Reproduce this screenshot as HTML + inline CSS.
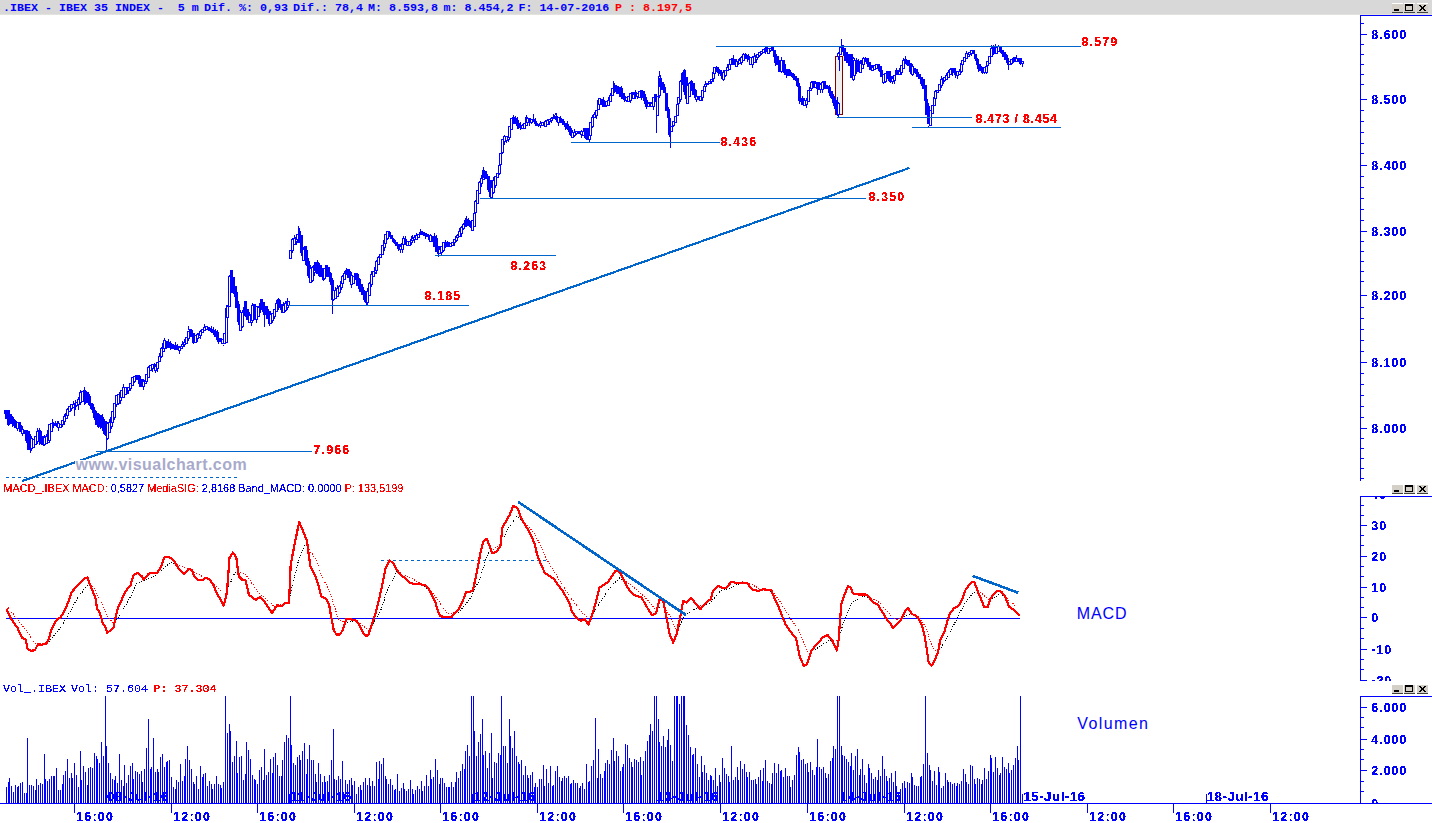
<!DOCTYPE html>
<html><head><meta charset="utf-8"><title>IBEX 35 INDEX</title>
<style>
html,body{margin:0;padding:0;background:#fff;width:1432px;height:823px;overflow:hidden}
svg{display:block}
</style></head><body>
<svg width="1432" height="823" viewBox="0 0 1432 823" shape-rendering="crispEdges" text-rendering="optimizeLegibility">
<defs><filter id="crisp" x="-5%" y="-20%" width="110%" height="140%" color-interpolation-filters="sRGB"><feComponentTransfer><feFuncA type="discrete" tableValues="0 1 1"/></feComponentTransfer></filter><filter id="crisp5" x="-5%" y="-20%" width="110%" height="140%" color-interpolation-filters="sRGB"><feComponentTransfer><feFuncA type="discrete" tableValues="0 1"/></feComponentTransfer></filter><filter id="crisp4" x="-5%" y="-20%" width="110%" height="140%" color-interpolation-filters="sRGB"><feComponentTransfer><feFuncA type="discrete" tableValues="0 0 1 1 1"/></feComponentTransfer></filter></defs>
<rect x="0" y="0" width="1432" height="14" fill="#D8D8D8"/>
<rect x="0" y="14" width="1432" height="1" fill="#E2E2DE"/>
<rect x="1392" y="3" width="11" height="10" fill="#D4D0C8"/><rect x="1392" y="3" width="11" height="1" fill="#FFFFFF"/><rect x="1392" y="12" width="11" height="1" fill="#404040"/><rect x="1394" y="9" width="5" height="2" fill="#000"/><rect x="1404" y="3" width="11" height="10" fill="#D4D0C8"/><rect x="1404" y="3" width="11" height="1" fill="#FFFFFF"/><rect x="1404" y="12" width="11" height="1" fill="#404040"/><rect x="1405.5" y="4.5" width="7" height="6" fill="none" stroke="#000" stroke-width="1"/><rect x="1405" y="4" width="8" height="2" fill="#000"/><rect x="1417" y="3" width="11" height="10" fill="#D4D0C8"/><rect x="1417" y="3" width="11" height="1" fill="#FFFFFF"/><rect x="1417" y="12" width="11" height="1" fill="#404040"/><path d="M1419 5h1v1h-1zM1420 5h1v1h-1zM1424 5h1v1h-1zM1425 5h1v1h-1zM1420 6h1v1h-1zM1421 6h1v1h-1zM1423 6h1v1h-1zM1424 6h1v1h-1zM1421 7h1v1h-1zM1422 7h1v1h-1zM1423 7h1v1h-1zM1421 8h1v1h-1zM1422 8h1v1h-1zM1423 8h1v1h-1zM1420 9h1v1h-1zM1421 9h1v1h-1zM1423 9h1v1h-1zM1424 9h1v1h-1zM1419 10h1v1h-1zM1420 10h1v1h-1zM1424 10h1v1h-1zM1425 10h1v1h-1z" fill="#000"/>
<rect x="1392" y="484" width="11" height="10" fill="#D4D0C8"/><rect x="1392" y="484" width="11" height="1" fill="#FFFFFF"/><rect x="1392" y="493" width="11" height="1" fill="#404040"/><rect x="1394" y="490" width="5" height="2" fill="#000"/><rect x="1404" y="484" width="11" height="10" fill="#D4D0C8"/><rect x="1404" y="484" width="11" height="1" fill="#FFFFFF"/><rect x="1404" y="493" width="11" height="1" fill="#404040"/><rect x="1405.5" y="485.5" width="7" height="6" fill="none" stroke="#000" stroke-width="1"/><rect x="1405" y="485" width="8" height="2" fill="#000"/><rect x="1417" y="484" width="11" height="10" fill="#D4D0C8"/><rect x="1417" y="484" width="11" height="1" fill="#FFFFFF"/><rect x="1417" y="493" width="11" height="1" fill="#404040"/><path d="M1419 486h1v1h-1zM1420 486h1v1h-1zM1424 486h1v1h-1zM1425 486h1v1h-1zM1420 487h1v1h-1zM1421 487h1v1h-1zM1423 487h1v1h-1zM1424 487h1v1h-1zM1421 488h1v1h-1zM1422 488h1v1h-1zM1423 488h1v1h-1zM1421 489h1v1h-1zM1422 489h1v1h-1zM1423 489h1v1h-1zM1420 490h1v1h-1zM1421 490h1v1h-1zM1423 490h1v1h-1zM1424 490h1v1h-1zM1419 491h1v1h-1zM1420 491h1v1h-1zM1424 491h1v1h-1zM1425 491h1v1h-1z" fill="#000"/>
<rect x="1392" y="684" width="11" height="10" fill="#D4D0C8"/><rect x="1392" y="684" width="11" height="1" fill="#FFFFFF"/><rect x="1392" y="693" width="11" height="1" fill="#404040"/><rect x="1394" y="690" width="5" height="2" fill="#000"/><rect x="1404" y="684" width="11" height="10" fill="#D4D0C8"/><rect x="1404" y="684" width="11" height="1" fill="#FFFFFF"/><rect x="1404" y="693" width="11" height="1" fill="#404040"/><rect x="1405.5" y="685.5" width="7" height="6" fill="none" stroke="#000" stroke-width="1"/><rect x="1405" y="685" width="8" height="2" fill="#000"/><rect x="1417" y="684" width="11" height="10" fill="#D4D0C8"/><rect x="1417" y="684" width="11" height="1" fill="#FFFFFF"/><rect x="1417" y="693" width="11" height="1" fill="#404040"/><path d="M1419 686h1v1h-1zM1420 686h1v1h-1zM1424 686h1v1h-1zM1425 686h1v1h-1zM1420 687h1v1h-1zM1421 687h1v1h-1zM1423 687h1v1h-1zM1424 687h1v1h-1zM1421 688h1v1h-1zM1422 688h1v1h-1zM1423 688h1v1h-1zM1421 689h1v1h-1zM1422 689h1v1h-1zM1423 689h1v1h-1zM1420 690h1v1h-1zM1421 690h1v1h-1zM1423 690h1v1h-1zM1424 690h1v1h-1zM1419 691h1v1h-1zM1420 691h1v1h-1zM1424 691h1v1h-1zM1425 691h1v1h-1z" fill="#000"/>
<text x="3" y="10.8" font-family="Liberation Mono, monospace" font-weight="bold" font-size="11.67" fill="#0000FF" xml:space="preserve">.IBEX - IBEX 35 INDEX -  5 m</text>
<text x="204" y="10.8" font-family="Liberation Mono, monospace" font-weight="bold" font-size="11.67" fill="#0000FF" xml:space="preserve">Dif. %: 0,93</text>
<text x="293" y="10.8" font-family="Liberation Mono, monospace" font-weight="bold" font-size="11.67" fill="#0000FF" xml:space="preserve">Dif.: 78,4</text>
<text x="368" y="10.8" font-family="Liberation Mono, monospace" font-weight="bold" font-size="11.67" fill="#0000FF" xml:space="preserve">M: 8.593,8</text>
<text x="443.6" y="10.8" font-family="Liberation Mono, monospace" font-weight="bold" font-size="11.67" fill="#0000FF" xml:space="preserve">m: 8.454,2</text>
<text x="518.4" y="10.8" font-family="Liberation Mono, monospace" font-weight="bold" font-size="11.67" fill="#0000FF" xml:space="preserve">F: 14-07-2016</text>
<text x="615" y="10.8" font-family="Liberation Mono, monospace" font-weight="bold" font-size="11.67" fill="#FF0000" xml:space="preserve">P : 8.197,5</text>
<rect x="1360" y="15" width="72" height="1" fill="#0000FF"/>
<rect x="1360" y="15" width="1" height="466" fill="#0000FF"/>
<rect x="1360" y="496" width="72" height="1" fill="#0000FF"/>
<rect x="1360" y="496" width="1" height="185" fill="#0000FF"/>
<rect x="1360" y="696" width="72" height="1" fill="#0000FF"/>
<rect x="1360" y="696" width="1" height="108" fill="#0000FF"/>
<rect x="1360" y="23" width="4" height="1" fill="#0000FF"/><rect x="1360" y="44" width="4" height="1" fill="#0000FF"/><rect x="1360" y="54" width="4" height="1" fill="#0000FF"/><rect x="1360" y="64" width="4" height="1" fill="#0000FF"/><rect x="1360" y="74" width="4" height="1" fill="#0000FF"/><rect x="1360" y="84" width="4" height="1" fill="#0000FF"/><rect x="1360" y="110" width="4" height="1" fill="#0000FF"/><rect x="1360" y="121" width="4" height="1" fill="#0000FF"/><rect x="1360" y="132" width="4" height="1" fill="#0000FF"/><rect x="1360" y="143" width="4" height="1" fill="#0000FF"/><rect x="1360" y="153" width="4" height="1" fill="#0000FF"/><rect x="1360" y="176" width="4" height="1" fill="#0000FF"/><rect x="1360" y="187" width="4" height="1" fill="#0000FF"/><rect x="1360" y="198" width="4" height="1" fill="#0000FF"/><rect x="1360" y="209" width="4" height="1" fill="#0000FF"/><rect x="1360" y="220" width="4" height="1" fill="#0000FF"/><rect x="1360" y="241" width="4" height="1" fill="#0000FF"/><rect x="1360" y="251" width="4" height="1" fill="#0000FF"/><rect x="1360" y="261" width="4" height="1" fill="#0000FF"/><rect x="1360" y="271" width="4" height="1" fill="#0000FF"/><rect x="1360" y="281" width="4" height="1" fill="#0000FF"/><rect x="1360" y="307" width="4" height="1" fill="#0000FF"/><rect x="1360" y="318" width="4" height="1" fill="#0000FF"/><rect x="1360" y="329" width="4" height="1" fill="#0000FF"/><rect x="1360" y="340" width="4" height="1" fill="#0000FF"/><rect x="1360" y="351" width="4" height="1" fill="#0000FF"/><rect x="1360" y="373" width="4" height="1" fill="#0000FF"/><rect x="1360" y="384" width="4" height="1" fill="#0000FF"/><rect x="1360" y="395" width="4" height="1" fill="#0000FF"/><rect x="1360" y="406" width="4" height="1" fill="#0000FF"/><rect x="1360" y="417" width="4" height="1" fill="#0000FF"/><rect x="1360" y="438" width="4" height="1" fill="#0000FF"/><rect x="1360" y="448" width="4" height="1" fill="#0000FF"/><rect x="1360" y="458" width="4" height="1" fill="#0000FF"/><rect x="1360" y="468" width="4" height="1" fill="#0000FF"/><rect x="1360" y="478" width="4" height="1" fill="#0000FF"/><rect x="1360" y="34" width="7" height="1" fill="#0000FF"/><text filter="url(#crisp)" x="1371.3" y="38.5" font-family="Liberation Sans, sans-serif" font-weight="bold" font-size="12.3" letter-spacing="1.05" fill="#0000FF">8.600</text><rect x="1360" y="99" width="7" height="1" fill="#0000FF"/><text filter="url(#crisp)" x="1371.3" y="103.5" font-family="Liberation Sans, sans-serif" font-weight="bold" font-size="12.3" letter-spacing="1.05" fill="#0000FF">8.500</text><rect x="1360" y="165" width="7" height="1" fill="#0000FF"/><text filter="url(#crisp)" x="1371.3" y="169.5" font-family="Liberation Sans, sans-serif" font-weight="bold" font-size="12.3" letter-spacing="1.05" fill="#0000FF">8.400</text><rect x="1360" y="231" width="7" height="1" fill="#0000FF"/><text filter="url(#crisp)" x="1371.3" y="235.5" font-family="Liberation Sans, sans-serif" font-weight="bold" font-size="12.3" letter-spacing="1.05" fill="#0000FF">8.300</text><rect x="1360" y="295" width="7" height="1" fill="#0000FF"/><text filter="url(#crisp)" x="1371.3" y="299.5" font-family="Liberation Sans, sans-serif" font-weight="bold" font-size="12.3" letter-spacing="1.05" fill="#0000FF">8.200</text><rect x="1360" y="362" width="7" height="1" fill="#0000FF"/><text filter="url(#crisp)" x="1371.3" y="366.5" font-family="Liberation Sans, sans-serif" font-weight="bold" font-size="12.3" letter-spacing="1.05" fill="#0000FF">8.100</text><rect x="1360" y="428" width="7" height="1" fill="#0000FF"/><text filter="url(#crisp)" x="1371.3" y="432.5" font-family="Liberation Sans, sans-serif" font-weight="bold" font-size="12.3" letter-spacing="1.05" fill="#0000FF">8.000</text>
<clipPath id="cm"><rect x="1360" y="497" width="72" height="184"/></clipPath>
<clipPath id="cv"><rect x="1360" y="697" width="72" height="106"/></clipPath>
<g clip-path="url(#cm)"><rect x="1360" y="505" width="4" height="1" fill="#0000FF"/><rect x="1360" y="515" width="4" height="1" fill="#0000FF"/><rect x="1360" y="535" width="4" height="1" fill="#0000FF"/><rect x="1360" y="545" width="4" height="1" fill="#0000FF"/><rect x="1360" y="566" width="4" height="1" fill="#0000FF"/><rect x="1360" y="576" width="4" height="1" fill="#0000FF"/><rect x="1360" y="597" width="4" height="1" fill="#0000FF"/><rect x="1360" y="607" width="4" height="1" fill="#0000FF"/><rect x="1360" y="628" width="4" height="1" fill="#0000FF"/><rect x="1360" y="638" width="4" height="1" fill="#0000FF"/><rect x="1360" y="659" width="4" height="1" fill="#0000FF"/><rect x="1360" y="669" width="4" height="1" fill="#0000FF"/><rect x="1360" y="525" width="7" height="1" fill="#0000FF"/><text filter="url(#crisp)" x="1371.3" y="529.5" font-family="Liberation Sans, sans-serif" font-weight="bold" font-size="12.3" letter-spacing="1.05" fill="#0000FF">30</text><rect x="1360" y="556" width="7" height="1" fill="#0000FF"/><text filter="url(#crisp)" x="1371.3" y="560.5" font-family="Liberation Sans, sans-serif" font-weight="bold" font-size="12.3" letter-spacing="1.05" fill="#0000FF">20</text><rect x="1360" y="587" width="7" height="1" fill="#0000FF"/><text filter="url(#crisp)" x="1371.3" y="591.5" font-family="Liberation Sans, sans-serif" font-weight="bold" font-size="12.3" letter-spacing="1.05" fill="#0000FF">10</text><rect x="1360" y="617" width="7" height="1" fill="#0000FF"/><text filter="url(#crisp)" x="1371.3" y="621.5" font-family="Liberation Sans, sans-serif" font-weight="bold" font-size="12.3" letter-spacing="1.05" fill="#0000FF">0</text><rect x="1360" y="649" width="7" height="1" fill="#0000FF"/><text filter="url(#crisp)" x="1371.3" y="653.5" font-family="Liberation Sans, sans-serif" font-weight="bold" font-size="12.3" letter-spacing="1.05" fill="#0000FF">-10</text><rect x="1360" y="680" width="7" height="1" fill="#0000FF"/><text filter="url(#crisp)" x="1371.3" y="684.5" font-family="Liberation Sans, sans-serif" font-weight="bold" font-size="12.3" letter-spacing="1.05" fill="#0000FF">-20</text><text filter="url(#crisp)" x="1371.3" y="499.2" font-family="Liberation Sans, sans-serif" font-weight="bold" font-size="12.3" letter-spacing="1.05" fill="#0000FF">40</text></g>
<g clip-path="url(#cv)"><rect x="1360" y="717" width="4" height="1" fill="#0000FF"/><rect x="1360" y="727" width="4" height="1" fill="#0000FF"/><rect x="1360" y="749" width="4" height="1" fill="#0000FF"/><rect x="1360" y="759" width="4" height="1" fill="#0000FF"/><rect x="1360" y="781" width="4" height="1" fill="#0000FF"/><rect x="1360" y="791" width="4" height="1" fill="#0000FF"/><rect x="1360" y="707" width="7" height="1" fill="#0000FF"/><text filter="url(#crisp)" x="1371.3" y="711.5" font-family="Liberation Sans, sans-serif" font-weight="bold" font-size="12.3" letter-spacing="1.05" fill="#0000FF">6.000</text><rect x="1360" y="739" width="7" height="1" fill="#0000FF"/><text filter="url(#crisp)" x="1371.3" y="743.5" font-family="Liberation Sans, sans-serif" font-weight="bold" font-size="12.3" letter-spacing="1.05" fill="#0000FF">4.000</text><rect x="1360" y="770" width="7" height="1" fill="#0000FF"/><text filter="url(#crisp)" x="1371.3" y="774.5" font-family="Liberation Sans, sans-serif" font-weight="bold" font-size="12.3" letter-spacing="1.05" fill="#0000FF">2.000</text><text filter="url(#crisp)" x="1371.3" y="807.6" font-family="Liberation Sans, sans-serif" font-weight="bold" font-size="12.3" letter-spacing="1.05" fill="#0000FF">0</text></g>
<rect x="835.5" y="56.5" width="7" height="58" fill="#EFEFEF" stroke="#800000" stroke-width="1"/>
<rect x="4" y="410" width="3" height="4" fill="#0000FF"/><rect x="5" y="410" width="3" height="9" fill="#0000FF"/><rect x="7" y="410" width="3" height="15" fill="#0000FF"/><rect x="9" y="414" width="3" height="10" fill="#0000FF"/><rect x="11" y="417" width="3" height="7" fill="#0000FF"/><rect x="12" y="419" width="3" height="7" fill="#0000FF"/><rect x="14" y="421" width="3" height="7" fill="#0000FF"/><rect x="16.5" y="422.5" width="2" height="6" fill="#fff" stroke="#0000FF" stroke-width="1"/><rect x="18" y="422" width="3" height="7" fill="#0000FF"/><rect x="20" y="427" width="3" height="5" fill="#0000FF"/><rect x="21.5" y="429.5" width="2" height="4" fill="#fff" stroke="#0000FF" stroke-width="1"/><rect x="23" y="430" width="3" height="4" fill="#0000FF"/><rect x="25" y="430" width="3" height="11" fill="#0000FF"/><rect x="27" y="431" width="3" height="19" fill="#0000FF"/><rect x="29" y="436" width="3" height="14" fill="#0000FF"/><rect x="30.5" y="438.5" width="2" height="10" fill="#fff" stroke="#0000FF" stroke-width="1"/><rect x="32.5" y="439.5" width="2" height="8" fill="#fff" stroke="#0000FF" stroke-width="1"/><rect x="34.5" y="436.5" width="2" height="8" fill="#fff" stroke="#0000FF" stroke-width="1"/><rect x="36.5" y="431.5" width="2" height="10" fill="#fff" stroke="#0000FF" stroke-width="1"/><rect x="38" y="430" width="3" height="12" fill="#0000FF"/><rect x="39" y="431" width="3" height="13" fill="#0000FF"/><rect x="41" y="436" width="3" height="9" fill="#0000FF"/><rect x="43.5" y="437.5" width="2" height="7" fill="#fff" stroke="#0000FF" stroke-width="1"/><rect x="45.5" y="436.5" width="2" height="7" fill="#fff" stroke="#0000FF" stroke-width="1"/><rect x="47.5" y="430.5" width="2" height="12" fill="#fff" stroke="#0000FF" stroke-width="1"/><rect x="48.5" y="424.5" width="2" height="16" fill="#fff" stroke="#0000FF" stroke-width="1"/><rect x="50.5" y="423.5" width="2" height="8" fill="#fff" stroke="#0000FF" stroke-width="1"/><rect x="52" y="423" width="3" height="2" fill="#0000FF"/><rect x="54" y="423" width="3" height="3" fill="#0000FF"/><rect x="56" y="423" width="3" height="4" fill="#0000FF"/><rect x="57.5" y="423.5" width="2" height="4" fill="#fff" stroke="#0000FF" stroke-width="1"/><rect x="59.5" y="424.5" width="2" height="3" fill="#fff" stroke="#0000FF" stroke-width="1"/><rect x="61.5" y="420.5" width="2" height="4" fill="#fff" stroke="#0000FF" stroke-width="1"/><rect x="63.5" y="416.5" width="2" height="5" fill="#fff" stroke="#0000FF" stroke-width="1"/><rect x="65.5" y="413.5" width="2" height="5" fill="#fff" stroke="#0000FF" stroke-width="1"/><rect x="66.5" y="409.5" width="2" height="6" fill="#fff" stroke="#0000FF" stroke-width="1"/><rect x="68.5" y="406.5" width="2" height="5" fill="#fff" stroke="#0000FF" stroke-width="1"/><rect x="70.5" y="404.5" width="2" height="4" fill="#fff" stroke="#0000FF" stroke-width="1"/><rect x="72.5" y="404.5" width="2" height="3" fill="#fff" stroke="#0000FF" stroke-width="1"/><rect x="74.5" y="403.5" width="2" height="3" fill="#fff" stroke="#0000FF" stroke-width="1"/><rect x="75.5" y="402.5" width="2" height="3" fill="#fff" stroke="#0000FF" stroke-width="1"/><rect x="77.5" y="399.5" width="2" height="5" fill="#fff" stroke="#0000FF" stroke-width="1"/><rect x="79.5" y="392.5" width="2" height="10" fill="#fff" stroke="#0000FF" stroke-width="1"/><rect x="81.5" y="391.5" width="2" height="10" fill="#fff" stroke="#0000FF" stroke-width="1"/><rect x="83.5" y="390.5" width="2" height="11" fill="#fff" stroke="#0000FF" stroke-width="1"/><rect x="84" y="391" width="3" height="10" fill="#0000FF"/><rect x="86" y="392" width="3" height="11" fill="#0000FF"/><rect x="88" y="396" width="3" height="9" fill="#0000FF"/><rect x="90" y="403" width="3" height="6" fill="#0000FF"/><rect x="92" y="407" width="3" height="6" fill="#0000FF"/><rect x="93" y="410" width="3" height="8" fill="#0000FF"/><rect x="95" y="413" width="3" height="12" fill="#0000FF"/><rect x="97" y="414" width="3" height="13" fill="#0000FF"/><rect x="99" y="415" width="3" height="12" fill="#0000FF"/><rect x="101" y="417" width="3" height="11" fill="#0000FF"/><rect x="102" y="419" width="3" height="12" fill="#0000FF"/><rect x="104" y="421" width="3" height="14" fill="#0000FF"/><rect x="106.5" y="423.5" width="2" height="15" fill="#fff" stroke="#0000FF" stroke-width="1"/><rect x="108.5" y="422.5" width="2" height="10" fill="#fff" stroke="#0000FF" stroke-width="1"/><rect x="110.5" y="417.5" width="2" height="9" fill="#fff" stroke="#0000FF" stroke-width="1"/><rect x="111.5" y="411.5" width="2" height="11" fill="#fff" stroke="#0000FF" stroke-width="1"/><rect x="113.5" y="403.5" width="2" height="14" fill="#fff" stroke="#0000FF" stroke-width="1"/><rect x="115.5" y="395.5" width="2" height="9" fill="#fff" stroke="#0000FF" stroke-width="1"/><rect x="117.5" y="394.5" width="2" height="9" fill="#fff" stroke="#0000FF" stroke-width="1"/><rect x="119.5" y="392.5" width="2" height="8" fill="#fff" stroke="#0000FF" stroke-width="1"/><rect x="120.5" y="390.5" width="2" height="7" fill="#fff" stroke="#0000FF" stroke-width="1"/><rect x="122.5" y="387.5" width="2" height="10" fill="#fff" stroke="#0000FF" stroke-width="1"/><rect x="124.5" y="387.5" width="2" height="7" fill="#fff" stroke="#0000FF" stroke-width="1"/><rect x="126.5" y="387.5" width="2" height="4" fill="#fff" stroke="#0000FF" stroke-width="1"/><rect x="127.5" y="387.5" width="2" height="3" fill="#fff" stroke="#0000FF" stroke-width="1"/><rect x="129.5" y="383.5" width="2" height="5" fill="#fff" stroke="#0000FF" stroke-width="1"/><rect x="131.5" y="377.5" width="2" height="8" fill="#fff" stroke="#0000FF" stroke-width="1"/><rect x="133.5" y="376.5" width="2" height="5" fill="#fff" stroke="#0000FF" stroke-width="1"/><rect x="135.5" y="375.5" width="2" height="4" fill="#fff" stroke="#0000FF" stroke-width="1"/><rect x="136" y="375" width="3" height="5" fill="#0000FF"/><rect x="138" y="376" width="3" height="8" fill="#0000FF"/><rect x="140" y="379" width="3" height="8" fill="#0000FF"/><rect x="142.5" y="381.5" width="2" height="5" fill="#fff" stroke="#0000FF" stroke-width="1"/><rect x="144.5" y="380.5" width="2" height="3" fill="#fff" stroke="#0000FF" stroke-width="1"/><rect x="145.5" y="374.5" width="2" height="7" fill="#fff" stroke="#0000FF" stroke-width="1"/><rect x="147.5" y="367.5" width="2" height="10" fill="#fff" stroke="#0000FF" stroke-width="1"/><rect x="149.5" y="365.5" width="2" height="5" fill="#fff" stroke="#0000FF" stroke-width="1"/><rect x="151.5" y="364.5" width="2" height="4" fill="#fff" stroke="#0000FF" stroke-width="1"/><rect x="153" y="364" width="3" height="5" fill="#0000FF"/><rect x="154.5" y="366.5" width="2" height="4" fill="#fff" stroke="#0000FF" stroke-width="1"/><rect x="156.5" y="362.5" width="2" height="6" fill="#fff" stroke="#0000FF" stroke-width="1"/><rect x="158.5" y="356.5" width="2" height="5" fill="#fff" stroke="#0000FF" stroke-width="1"/><rect x="160.5" y="348.5" width="2" height="8" fill="#fff" stroke="#0000FF" stroke-width="1"/><rect x="162.5" y="343.5" width="2" height="8" fill="#fff" stroke="#0000FF" stroke-width="1"/><rect x="163.5" y="340.5" width="2" height="8" fill="#fff" stroke="#0000FF" stroke-width="1"/><rect x="165" y="341" width="3" height="7" fill="#0000FF"/><rect x="167" y="342" width="3" height="6" fill="#0000FF"/><rect x="169" y="343" width="3" height="5" fill="#0000FF"/><rect x="171" y="344" width="3" height="5" fill="#0000FF"/><rect x="172" y="345" width="3" height="4" fill="#0000FF"/><rect x="174" y="345" width="3" height="5" fill="#0000FF"/><rect x="176" y="346" width="3" height="4" fill="#0000FF"/><rect x="178.5" y="347.5" width="2" height="3" fill="#fff" stroke="#0000FF" stroke-width="1"/><rect x="180.5" y="346.5" width="2" height="2" fill="#fff" stroke="#0000FF" stroke-width="1"/><rect x="181.5" y="344.5" width="2" height="2" fill="#fff" stroke="#0000FF" stroke-width="1"/><rect x="183.5" y="342.5" width="2" height="2" fill="#fff" stroke="#0000FF" stroke-width="1"/><rect x="185.5" y="337.5" width="2" height="6" fill="#fff" stroke="#0000FF" stroke-width="1"/><rect x="187.5" y="331.5" width="2" height="7" fill="#fff" stroke="#0000FF" stroke-width="1"/><rect x="189" y="329" width="3" height="7" fill="#0000FF"/><rect x="190" y="330" width="3" height="7" fill="#0000FF"/><rect x="192" y="333" width="3" height="10" fill="#0000FF"/><rect x="194.5" y="335.5" width="2" height="7" fill="#fff" stroke="#0000FF" stroke-width="1"/><rect x="196.5" y="334.5" width="2" height="4" fill="#fff" stroke="#0000FF" stroke-width="1"/><rect x="198.5" y="333.5" width="2" height="4" fill="#fff" stroke="#0000FF" stroke-width="1"/><rect x="199.5" y="331.5" width="2" height="4" fill="#fff" stroke="#0000FF" stroke-width="1"/><rect x="201.5" y="329.5" width="2" height="3" fill="#fff" stroke="#0000FF" stroke-width="1"/><rect x="203.5" y="327.5" width="2" height="3" fill="#fff" stroke="#0000FF" stroke-width="1"/><rect x="205.5" y="326.5" width="2" height="3" fill="#fff" stroke="#0000FF" stroke-width="1"/><rect x="207" y="327" width="3" height="3" fill="#0000FF"/><rect x="208" y="328" width="3" height="3" fill="#0000FF"/><rect x="210" y="329" width="3" height="3" fill="#0000FF"/><rect x="212" y="330" width="3" height="3" fill="#0000FF"/><rect x="214" y="331" width="3" height="6" fill="#0000FF"/><rect x="216" y="332" width="3" height="8" fill="#0000FF"/><rect x="217" y="338" width="3" height="4" fill="#0000FF"/><rect x="219" y="338" width="3" height="4" fill="#0000FF"/><rect x="221.5" y="339.5" width="2" height="4" fill="#fff" stroke="#0000FF" stroke-width="1"/><rect x="223.5" y="333.5" width="2" height="10" fill="#fff" stroke="#0000FF" stroke-width="1"/><rect x="225.5" y="308.5" width="2" height="34" fill="#fff" stroke="#0000FF" stroke-width="1"/><rect x="226.5" y="306.5" width="2" height="11" fill="#fff" stroke="#0000FF" stroke-width="1"/><rect x="228.5" y="276.5" width="2" height="30" fill="#fff" stroke="#0000FF" stroke-width="1"/><rect x="230" y="270" width="3" height="23" fill="#0000FF"/><rect x="232" y="277" width="3" height="15" fill="#0000FF"/><rect x="234" y="286" width="3" height="11" fill="#0000FF"/><rect x="235" y="292" width="3" height="16" fill="#0000FF"/><rect x="237" y="304" width="3" height="18" fill="#0000FF"/><rect x="239.5" y="312.5" width="2" height="18" fill="#fff" stroke="#0000FF" stroke-width="1"/><rect x="241.5" y="312.5" width="2" height="14" fill="#fff" stroke="#0000FF" stroke-width="1"/><rect x="243.5" y="307.5" width="2" height="8" fill="#fff" stroke="#0000FF" stroke-width="1"/><rect x="244" y="301" width="3" height="15" fill="#0000FF"/><rect x="246" y="309" width="3" height="11" fill="#0000FF"/><rect x="248.5" y="315.5" width="2" height="7" fill="#fff" stroke="#0000FF" stroke-width="1"/><rect x="250.5" y="314.5" width="2" height="8" fill="#fff" stroke="#0000FF" stroke-width="1"/><rect x="251.5" y="305.5" width="2" height="15" fill="#fff" stroke="#0000FF" stroke-width="1"/><rect x="253" y="304" width="3" height="16" fill="#0000FF"/><rect x="255.5" y="306.5" width="2" height="13" fill="#fff" stroke="#0000FF" stroke-width="1"/><rect x="257.5" y="307.5" width="2" height="9" fill="#fff" stroke="#0000FF" stroke-width="1"/><rect x="259.5" y="303.5" width="2" height="6" fill="#fff" stroke="#0000FF" stroke-width="1"/><rect x="260" y="299" width="3" height="10" fill="#0000FF"/><rect x="262" y="302" width="3" height="10" fill="#0000FF"/><rect x="264" y="306" width="3" height="9" fill="#0000FF"/><rect x="266" y="309" width="3" height="10" fill="#0000FF"/><rect x="268" y="311" width="3" height="13" fill="#0000FF"/><rect x="269.5" y="314.5" width="2" height="9" fill="#fff" stroke="#0000FF" stroke-width="1"/><rect x="271.5" y="313.5" width="2" height="7" fill="#fff" stroke="#0000FF" stroke-width="1"/><rect x="273.5" y="309.5" width="2" height="7" fill="#fff" stroke="#0000FF" stroke-width="1"/><rect x="275.5" y="303.5" width="2" height="8" fill="#fff" stroke="#0000FF" stroke-width="1"/><rect x="277.5" y="299.5" width="2" height="7" fill="#fff" stroke="#0000FF" stroke-width="1"/><rect x="278" y="300" width="3" height="7" fill="#0000FF"/><rect x="280" y="304" width="3" height="6" fill="#0000FF"/><rect x="282.5" y="305.5" width="2" height="7" fill="#fff" stroke="#0000FF" stroke-width="1"/><rect x="284.5" y="303.5" width="2" height="7" fill="#fff" stroke="#0000FF" stroke-width="1"/><rect x="286.5" y="301.5" width="2" height="6" fill="#fff" stroke="#0000FF" stroke-width="1"/><rect x="287.5" y="301.5" width="2" height="4" fill="#fff" stroke="#0000FF" stroke-width="1"/><rect x="289.5" y="250.5" width="2" height="8" fill="#fff" stroke="#0000FF" stroke-width="1"/><rect x="291.5" y="239.5" width="2" height="11" fill="#fff" stroke="#0000FF" stroke-width="1"/><rect x="293.5" y="238.5" width="2" height="6" fill="#fff" stroke="#0000FF" stroke-width="1"/><rect x="295.5" y="237.5" width="2" height="4" fill="#fff" stroke="#0000FF" stroke-width="1"/><rect x="296.5" y="234.5" width="2" height="5" fill="#fff" stroke="#0000FF" stroke-width="1"/><rect x="298" y="231" width="3" height="12" fill="#0000FF"/><rect x="300" y="235" width="3" height="18" fill="#0000FF"/><rect x="302.5" y="249.5" width="2" height="11" fill="#fff" stroke="#0000FF" stroke-width="1"/><rect x="304" y="246" width="3" height="12" fill="#0000FF"/><rect x="305" y="250" width="3" height="15" fill="#0000FF"/><rect x="307" y="261" width="3" height="15" fill="#0000FF"/><rect x="309.5" y="268.5" width="2" height="14" fill="#fff" stroke="#0000FF" stroke-width="1"/><rect x="311.5" y="267.5" width="2" height="13" fill="#fff" stroke="#0000FF" stroke-width="1"/><rect x="313.5" y="265.5" width="2" height="7" fill="#fff" stroke="#0000FF" stroke-width="1"/><rect x="314" y="262" width="3" height="9" fill="#0000FF"/><rect x="316" y="262" width="3" height="12" fill="#0000FF"/><rect x="318" y="265" width="3" height="11" fill="#0000FF"/><rect x="320" y="268" width="3" height="9" fill="#0000FF"/><rect x="322.5" y="272.5" width="2" height="7" fill="#fff" stroke="#0000FF" stroke-width="1"/><rect x="323.5" y="268.5" width="2" height="10" fill="#fff" stroke="#0000FF" stroke-width="1"/><rect x="325" y="265" width="3" height="12" fill="#0000FF"/><rect x="327" y="267" width="3" height="9" fill="#0000FF"/><rect x="329" y="273" width="3" height="9" fill="#0000FF"/><rect x="331" y="280" width="3" height="20" fill="#0000FF"/><rect x="332.5" y="290.5" width="2" height="9" fill="#fff" stroke="#0000FF" stroke-width="1"/><rect x="334.5" y="290.5" width="2" height="8" fill="#fff" stroke="#0000FF" stroke-width="1"/><rect x="336.5" y="288.5" width="2" height="8" fill="#fff" stroke="#0000FF" stroke-width="1"/><rect x="338.5" y="286.5" width="2" height="6" fill="#fff" stroke="#0000FF" stroke-width="1"/><rect x="340.5" y="281.5" width="2" height="6" fill="#fff" stroke="#0000FF" stroke-width="1"/><rect x="341.5" y="276.5" width="2" height="7" fill="#fff" stroke="#0000FF" stroke-width="1"/><rect x="343.5" y="273.5" width="2" height="6" fill="#fff" stroke="#0000FF" stroke-width="1"/><rect x="345" y="270" width="3" height="5" fill="#0000FF"/><rect x="347" y="269" width="3" height="9" fill="#0000FF"/><rect x="349" y="272" width="3" height="10" fill="#0000FF"/><rect x="350.5" y="275.5" width="2" height="9" fill="#fff" stroke="#0000FF" stroke-width="1"/><rect x="352.5" y="276.5" width="2" height="7" fill="#fff" stroke="#0000FF" stroke-width="1"/><rect x="354" y="273" width="3" height="7" fill="#0000FF"/><rect x="356" y="274" width="3" height="12" fill="#0000FF"/><rect x="358" y="279" width="3" height="10" fill="#0000FF"/><rect x="359" y="284" width="3" height="8" fill="#0000FF"/><rect x="361" y="287" width="3" height="8" fill="#0000FF"/><rect x="363" y="291" width="3" height="9" fill="#0000FF"/><rect x="365.5" y="293.5" width="2" height="9" fill="#fff" stroke="#0000FF" stroke-width="1"/><rect x="366.5" y="291.5" width="2" height="11" fill="#fff" stroke="#0000FF" stroke-width="1"/><rect x="368.5" y="283.5" width="2" height="12" fill="#fff" stroke="#0000FF" stroke-width="1"/><rect x="370.5" y="274.5" width="2" height="10" fill="#fff" stroke="#0000FF" stroke-width="1"/><rect x="372.5" y="271.5" width="2" height="5" fill="#fff" stroke="#0000FF" stroke-width="1"/><rect x="374.5" y="267.5" width="2" height="5" fill="#fff" stroke="#0000FF" stroke-width="1"/><rect x="375.5" y="261.5" width="2" height="9" fill="#fff" stroke="#0000FF" stroke-width="1"/><rect x="377.5" y="257.5" width="2" height="7" fill="#fff" stroke="#0000FF" stroke-width="1"/><rect x="379.5" y="254.5" width="2" height="3" fill="#fff" stroke="#0000FF" stroke-width="1"/><rect x="381.5" y="245.5" width="2" height="9" fill="#fff" stroke="#0000FF" stroke-width="1"/><rect x="383.5" y="240.5" width="2" height="7" fill="#fff" stroke="#0000FF" stroke-width="1"/><rect x="384.5" y="234.5" width="2" height="9" fill="#fff" stroke="#0000FF" stroke-width="1"/><rect x="386.5" y="231.5" width="2" height="7" fill="#fff" stroke="#0000FF" stroke-width="1"/><rect x="388" y="232" width="3" height="4" fill="#0000FF"/><rect x="390" y="235" width="3" height="4" fill="#0000FF"/><rect x="392" y="239" width="3" height="3" fill="#0000FF"/><rect x="393" y="240" width="3" height="3" fill="#0000FF"/><rect x="395" y="242" width="3" height="4" fill="#0000FF"/><rect x="397" y="244" width="3" height="5" fill="#0000FF"/><rect x="399.5" y="246.5" width="2" height="3" fill="#fff" stroke="#0000FF" stroke-width="1"/><rect x="401.5" y="243.5" width="2" height="6" fill="#fff" stroke="#0000FF" stroke-width="1"/><rect x="402.5" y="238.5" width="2" height="6" fill="#fff" stroke="#0000FF" stroke-width="1"/><rect x="404" y="239" width="3" height="6" fill="#0000FF"/><rect x="406.5" y="241.5" width="2" height="4" fill="#fff" stroke="#0000FF" stroke-width="1"/><rect x="408.5" y="241.5" width="2" height="4" fill="#fff" stroke="#0000FF" stroke-width="1"/><rect x="410.5" y="239.5" width="2" height="3" fill="#fff" stroke="#0000FF" stroke-width="1"/><rect x="411.5" y="238.5" width="2" height="2" fill="#fff" stroke="#0000FF" stroke-width="1"/><rect x="413.5" y="237.5" width="2" height="2" fill="#fff" stroke="#0000FF" stroke-width="1"/><rect x="415.5" y="235.5" width="2" height="4" fill="#fff" stroke="#0000FF" stroke-width="1"/><rect x="417.5" y="234.5" width="2" height="3" fill="#fff" stroke="#0000FF" stroke-width="1"/><rect x="419.5" y="232.5" width="2" height="2" fill="#fff" stroke="#0000FF" stroke-width="1"/><rect x="420" y="231" width="3" height="3" fill="#0000FF"/><rect x="422" y="232" width="3" height="3" fill="#0000FF"/><rect x="424" y="233" width="3" height="3" fill="#0000FF"/><rect x="426" y="234" width="3" height="3" fill="#0000FF"/><rect x="428" y="235" width="3" height="5" fill="#0000FF"/><rect x="429.5" y="235.5" width="2" height="6" fill="#fff" stroke="#0000FF" stroke-width="1"/><rect x="431" y="236" width="3" height="6" fill="#0000FF"/><rect x="433" y="236" width="3" height="11" fill="#0000FF"/><rect x="435" y="238" width="3" height="14" fill="#0000FF"/><rect x="437" y="246" width="3" height="8" fill="#0000FF"/><rect x="438.5" y="249.5" width="2" height="4" fill="#fff" stroke="#0000FF" stroke-width="1"/><rect x="440.5" y="246.5" width="2" height="6" fill="#fff" stroke="#0000FF" stroke-width="1"/><rect x="442.5" y="242.5" width="2" height="8" fill="#fff" stroke="#0000FF" stroke-width="1"/><rect x="444" y="242" width="3" height="3" fill="#0000FF"/><rect x="446.5" y="242.5" width="2" height="4" fill="#fff" stroke="#0000FF" stroke-width="1"/><rect x="447" y="242" width="3" height="5" fill="#0000FF"/><rect x="449.5" y="243.5" width="2" height="3" fill="#fff" stroke="#0000FF" stroke-width="1"/><rect x="451.5" y="242.5" width="2" height="3" fill="#fff" stroke="#0000FF" stroke-width="1"/><rect x="453.5" y="239.5" width="2" height="3" fill="#fff" stroke="#0000FF" stroke-width="1"/><rect x="455.5" y="236.5" width="2" height="4" fill="#fff" stroke="#0000FF" stroke-width="1"/><rect x="456.5" y="235.5" width="2" height="2" fill="#fff" stroke="#0000FF" stroke-width="1"/><rect x="458.5" y="231.5" width="2" height="5" fill="#fff" stroke="#0000FF" stroke-width="1"/><rect x="460.5" y="227.5" width="2" height="6" fill="#fff" stroke="#0000FF" stroke-width="1"/><rect x="462.5" y="224.5" width="2" height="4" fill="#fff" stroke="#0000FF" stroke-width="1"/><rect x="464.5" y="220.5" width="2" height="6" fill="#fff" stroke="#0000FF" stroke-width="1"/><rect x="465" y="219" width="3" height="7" fill="#0000FF"/><rect x="467" y="220" width="3" height="6" fill="#0000FF"/><rect x="469" y="222" width="3" height="5" fill="#0000FF"/><rect x="471.5" y="220.5" width="2" height="10" fill="#fff" stroke="#0000FF" stroke-width="1"/><rect x="473.5" y="213.5" width="2" height="13" fill="#fff" stroke="#0000FF" stroke-width="1"/><rect x="474.5" y="201.5" width="2" height="11" fill="#fff" stroke="#0000FF" stroke-width="1"/><rect x="476.5" y="190.5" width="2" height="13" fill="#fff" stroke="#0000FF" stroke-width="1"/><rect x="478.5" y="182.5" width="2" height="11" fill="#fff" stroke="#0000FF" stroke-width="1"/><rect x="480.5" y="178.5" width="2" height="5" fill="#fff" stroke="#0000FF" stroke-width="1"/><rect x="482.5" y="170.5" width="2" height="9" fill="#fff" stroke="#0000FF" stroke-width="1"/><rect x="483" y="171" width="3" height="7" fill="#0000FF"/><rect x="485" y="174" width="3" height="5" fill="#0000FF"/><rect x="487" y="176" width="3" height="14" fill="#0000FF"/><rect x="489" y="180" width="3" height="17" fill="#0000FF"/><rect x="490.5" y="187.5" width="2" height="10" fill="#fff" stroke="#0000FF" stroke-width="1"/><rect x="492.5" y="180.5" width="2" height="12" fill="#fff" stroke="#0000FF" stroke-width="1"/><rect x="494.5" y="176.5" width="2" height="9" fill="#fff" stroke="#0000FF" stroke-width="1"/><rect x="496.5" y="173.5" width="2" height="4" fill="#fff" stroke="#0000FF" stroke-width="1"/><rect x="498.5" y="165.5" width="2" height="8" fill="#fff" stroke="#0000FF" stroke-width="1"/><rect x="499.5" y="153.5" width="2" height="11" fill="#fff" stroke="#0000FF" stroke-width="1"/><rect x="501.5" y="139.5" width="2" height="13" fill="#fff" stroke="#0000FF" stroke-width="1"/><rect x="503.5" y="136.5" width="2" height="5" fill="#fff" stroke="#0000FF" stroke-width="1"/><rect x="505.5" y="136.5" width="2" height="4" fill="#fff" stroke="#0000FF" stroke-width="1"/><rect x="507.5" y="136.5" width="2" height="3" fill="#fff" stroke="#0000FF" stroke-width="1"/><rect x="508.5" y="126.5" width="2" height="11" fill="#fff" stroke="#0000FF" stroke-width="1"/><rect x="510.5" y="118.5" width="2" height="11" fill="#fff" stroke="#0000FF" stroke-width="1"/><rect x="512" y="117" width="3" height="5" fill="#0000FF"/><rect x="514" y="118" width="3" height="6" fill="#0000FF"/><rect x="516" y="120" width="3" height="6" fill="#0000FF"/><rect x="517" y="123" width="3" height="4" fill="#0000FF"/><rect x="519" y="125" width="3" height="3" fill="#0000FF"/><rect x="521.5" y="125.5" width="2" height="3" fill="#fff" stroke="#0000FF" stroke-width="1"/><rect x="523.5" y="123.5" width="2" height="5" fill="#fff" stroke="#0000FF" stroke-width="1"/><rect x="525.5" y="117.5" width="2" height="8" fill="#fff" stroke="#0000FF" stroke-width="1"/><rect x="526.5" y="118.5" width="2" height="4" fill="#fff" stroke="#0000FF" stroke-width="1"/><rect x="528" y="118" width="3" height="5" fill="#0000FF"/><rect x="530.5" y="119.5" width="2" height="3" fill="#fff" stroke="#0000FF" stroke-width="1"/><rect x="532" y="119" width="3" height="3" fill="#0000FF"/><rect x="534" y="121" width="3" height="3" fill="#0000FF"/><rect x="535" y="123" width="3" height="3" fill="#0000FF"/><rect x="537" y="124" width="3" height="2" fill="#0000FF"/><rect x="539.5" y="123.5" width="2" height="2" fill="#fff" stroke="#0000FF" stroke-width="1"/><rect x="541.5" y="122.5" width="2" height="3" fill="#fff" stroke="#0000FF" stroke-width="1"/><rect x="543.5" y="122.5" width="2" height="3" fill="#fff" stroke="#0000FF" stroke-width="1"/><rect x="544.5" y="121.5" width="2" height="5" fill="#fff" stroke="#0000FF" stroke-width="1"/><rect x="546.5" y="120.5" width="2" height="4" fill="#fff" stroke="#0000FF" stroke-width="1"/><rect x="548.5" y="119.5" width="2" height="2" fill="#fff" stroke="#0000FF" stroke-width="1"/><rect x="550.5" y="118.5" width="2" height="2" fill="#fff" stroke="#0000FF" stroke-width="1"/><rect x="552" y="117" width="3" height="2" fill="#0000FF"/><rect x="553" y="116" width="3" height="2" fill="#0000FF"/><rect x="555" y="116" width="3" height="4" fill="#0000FF"/><rect x="557.5" y="117.5" width="2" height="5" fill="#fff" stroke="#0000FF" stroke-width="1"/><rect x="559" y="118" width="3" height="4" fill="#0000FF"/><rect x="561" y="119" width="3" height="4" fill="#0000FF"/><rect x="562" y="121" width="3" height="4" fill="#0000FF"/><rect x="564" y="123" width="3" height="4" fill="#0000FF"/><rect x="566" y="124" width="3" height="5" fill="#0000FF"/><rect x="568" y="126" width="3" height="6" fill="#0000FF"/><rect x="570" y="130" width="3" height="6" fill="#0000FF"/><rect x="571.5" y="132.5" width="2" height="5" fill="#fff" stroke="#0000FF" stroke-width="1"/><rect x="573.5" y="132.5" width="2" height="3" fill="#fff" stroke="#0000FF" stroke-width="1"/><rect x="575.5" y="131.5" width="2" height="2" fill="#fff" stroke="#0000FF" stroke-width="1"/><rect x="577" y="131" width="3" height="3" fill="#0000FF"/><rect x="579" y="131" width="3" height="3" fill="#0000FF"/><rect x="580.5" y="131.5" width="2" height="3" fill="#fff" stroke="#0000FF" stroke-width="1"/><rect x="582.5" y="131.5" width="2" height="4" fill="#fff" stroke="#0000FF" stroke-width="1"/><rect x="584" y="128" width="3" height="10" fill="#0000FF"/><rect x="586" y="128" width="3" height="12" fill="#0000FF"/><rect x="588.5" y="132.5" width="2" height="7" fill="#fff" stroke="#0000FF" stroke-width="1"/><rect x="589.5" y="122.5" width="2" height="13" fill="#fff" stroke="#0000FF" stroke-width="1"/><rect x="591.5" y="117.5" width="2" height="9" fill="#fff" stroke="#0000FF" stroke-width="1"/><rect x="593.5" y="114.5" width="2" height="3" fill="#fff" stroke="#0000FF" stroke-width="1"/><rect x="595.5" y="110.5" width="2" height="5" fill="#fff" stroke="#0000FF" stroke-width="1"/><rect x="597.5" y="100.5" width="2" height="9" fill="#fff" stroke="#0000FF" stroke-width="1"/><rect x="598.5" y="98.5" width="2" height="6" fill="#fff" stroke="#0000FF" stroke-width="1"/><rect x="600" y="99" width="3" height="6" fill="#0000FF"/><rect x="602" y="100" width="3" height="7" fill="#0000FF"/><rect x="604.5" y="102.5" width="2" height="4" fill="#fff" stroke="#0000FF" stroke-width="1"/><rect x="605.5" y="101.5" width="2" height="4" fill="#fff" stroke="#0000FF" stroke-width="1"/><rect x="607.5" y="100.5" width="2" height="5" fill="#fff" stroke="#0000FF" stroke-width="1"/><rect x="609.5" y="95.5" width="2" height="6" fill="#fff" stroke="#0000FF" stroke-width="1"/><rect x="611.5" y="88.5" width="2" height="7" fill="#fff" stroke="#0000FF" stroke-width="1"/><rect x="613.5" y="86.5" width="2" height="4" fill="#fff" stroke="#0000FF" stroke-width="1"/><rect x="614" y="85" width="3" height="5" fill="#0000FF"/><rect x="616" y="86" width="3" height="8" fill="#0000FF"/><rect x="618" y="87" width="3" height="7" fill="#0000FF"/><rect x="620" y="88" width="3" height="9" fill="#0000FF"/><rect x="622" y="93" width="3" height="6" fill="#0000FF"/><rect x="623" y="96" width="3" height="4" fill="#0000FF"/><rect x="625.5" y="97.5" width="2" height="3" fill="#fff" stroke="#0000FF" stroke-width="1"/><rect x="627.5" y="96.5" width="2" height="5" fill="#fff" stroke="#0000FF" stroke-width="1"/><rect x="629.5" y="93.5" width="2" height="7" fill="#fff" stroke="#0000FF" stroke-width="1"/><rect x="631" y="92" width="3" height="7" fill="#0000FF"/><rect x="632.5" y="94.5" width="2" height="4" fill="#fff" stroke="#0000FF" stroke-width="1"/><rect x="634" y="92" width="3" height="4" fill="#0000FF"/><rect x="636.5" y="93.5" width="2" height="3" fill="#fff" stroke="#0000FF" stroke-width="1"/><rect x="638.5" y="91.5" width="2" height="6" fill="#fff" stroke="#0000FF" stroke-width="1"/><rect x="640" y="90" width="3" height="8" fill="#0000FF"/><rect x="641" y="91" width="3" height="7" fill="#0000FF"/><rect x="643" y="94" width="3" height="7" fill="#0000FF"/><rect x="645" y="100" width="3" height="7" fill="#0000FF"/><rect x="647.5" y="103.5" width="2" height="3" fill="#fff" stroke="#0000FF" stroke-width="1"/><rect x="649" y="102" width="3" height="4" fill="#0000FF"/><rect x="650.5" y="103.5" width="2" height="3" fill="#fff" stroke="#0000FF" stroke-width="1"/><rect x="652.5" y="97.5" width="2" height="9" fill="#fff" stroke="#0000FF" stroke-width="1"/><rect x="654" y="94" width="3" height="8" fill="#0000FF"/><rect x="656.5" y="96.5" width="2" height="19" fill="#fff" stroke="#0000FF" stroke-width="1"/><rect x="658.5" y="76.5" width="2" height="19" fill="#fff" stroke="#0000FF" stroke-width="1"/><rect x="659" y="78" width="3" height="9" fill="#0000FF"/><rect x="661" y="82" width="3" height="8" fill="#0000FF"/><rect x="663" y="87" width="3" height="6" fill="#0000FF"/><rect x="665" y="93" width="3" height="18" fill="#0000FF"/><rect x="667" y="109" width="3" height="9" fill="#0000FF"/><rect x="668" y="118" width="3" height="17" fill="#0000FF"/><rect x="670.5" y="126.5" width="2" height="5" fill="#fff" stroke="#0000FF" stroke-width="1"/><rect x="672.5" y="121.5" width="2" height="4" fill="#fff" stroke="#0000FF" stroke-width="1"/><rect x="674.5" y="116.5" width="2" height="6" fill="#fff" stroke="#0000FF" stroke-width="1"/><rect x="676.5" y="104.5" width="2" height="11" fill="#fff" stroke="#0000FF" stroke-width="1"/><rect x="677.5" y="97.5" width="2" height="6" fill="#fff" stroke="#0000FF" stroke-width="1"/><rect x="679.5" y="81.5" width="2" height="18" fill="#fff" stroke="#0000FF" stroke-width="1"/><rect x="681" y="73" width="3" height="12" fill="#0000FF"/><rect x="683" y="70" width="3" height="22" fill="#0000FF"/><rect x="685" y="77" width="3" height="22" fill="#0000FF"/><rect x="686.5" y="85.5" width="2" height="18" fill="#fff" stroke="#0000FF" stroke-width="1"/><rect x="688.5" y="83.5" width="2" height="13" fill="#fff" stroke="#0000FF" stroke-width="1"/><rect x="690" y="81" width="3" height="10" fill="#0000FF"/><rect x="692" y="83" width="3" height="12" fill="#0000FF"/><rect x="694" y="90" width="3" height="8" fill="#0000FF"/><rect x="695.5" y="96.5" width="2" height="3" fill="#fff" stroke="#0000FF" stroke-width="1"/><rect x="697" y="96" width="3" height="4" fill="#0000FF"/><rect x="699.5" y="96.5" width="2" height="4" fill="#fff" stroke="#0000FF" stroke-width="1"/><rect x="701.5" y="90.5" width="2" height="7" fill="#fff" stroke="#0000FF" stroke-width="1"/><rect x="703.5" y="86.5" width="2" height="5" fill="#fff" stroke="#0000FF" stroke-width="1"/><rect x="704.5" y="84.5" width="2" height="2" fill="#fff" stroke="#0000FF" stroke-width="1"/><rect x="706" y="83" width="3" height="2" fill="#0000FF"/><rect x="708.5" y="81.5" width="2" height="2" fill="#fff" stroke="#0000FF" stroke-width="1"/><rect x="710.5" y="79.5" width="2" height="2" fill="#fff" stroke="#0000FF" stroke-width="1"/><rect x="712.5" y="72.5" width="2" height="6" fill="#fff" stroke="#0000FF" stroke-width="1"/><rect x="713.5" y="67.5" width="2" height="6" fill="#fff" stroke="#0000FF" stroke-width="1"/><rect x="715" y="67" width="3" height="5" fill="#0000FF"/><rect x="717" y="69" width="3" height="4" fill="#0000FF"/><rect x="719" y="70" width="3" height="4" fill="#0000FF"/><rect x="721" y="72" width="3" height="7" fill="#0000FF"/><rect x="722.5" y="72.5" width="2" height="7" fill="#fff" stroke="#0000FF" stroke-width="1"/><rect x="724.5" y="70.5" width="2" height="5" fill="#fff" stroke="#0000FF" stroke-width="1"/><rect x="726.5" y="67.5" width="2" height="3" fill="#fff" stroke="#0000FF" stroke-width="1"/><rect x="728.5" y="64.5" width="2" height="5" fill="#fff" stroke="#0000FF" stroke-width="1"/><rect x="729.5" y="59.5" width="2" height="5" fill="#fff" stroke="#0000FF" stroke-width="1"/><rect x="731" y="58" width="3" height="5" fill="#0000FF"/><rect x="733" y="59" width="3" height="6" fill="#0000FF"/><rect x="735.5" y="61.5" width="2" height="5" fill="#fff" stroke="#0000FF" stroke-width="1"/><rect x="737.5" y="61.5" width="2" height="2" fill="#fff" stroke="#0000FF" stroke-width="1"/><rect x="738.5" y="60.5" width="2" height="3" fill="#fff" stroke="#0000FF" stroke-width="1"/><rect x="740.5" y="57.5" width="2" height="5" fill="#fff" stroke="#0000FF" stroke-width="1"/><rect x="742.5" y="54.5" width="2" height="6" fill="#fff" stroke="#0000FF" stroke-width="1"/><rect x="744" y="54" width="3" height="5" fill="#0000FF"/><rect x="746" y="55" width="3" height="4" fill="#0000FF"/><rect x="747" y="56" width="3" height="4" fill="#0000FF"/><rect x="749.5" y="57.5" width="2" height="7" fill="#fff" stroke="#0000FF" stroke-width="1"/><rect x="751.5" y="57.5" width="2" height="7" fill="#fff" stroke="#0000FF" stroke-width="1"/><rect x="753.5" y="56.5" width="2" height="6" fill="#fff" stroke="#0000FF" stroke-width="1"/><rect x="755.5" y="55.5" width="2" height="4" fill="#fff" stroke="#0000FF" stroke-width="1"/><rect x="756.5" y="54.5" width="2" height="3" fill="#fff" stroke="#0000FF" stroke-width="1"/><rect x="758.5" y="52.5" width="2" height="3" fill="#fff" stroke="#0000FF" stroke-width="1"/><rect x="760.5" y="51.5" width="2" height="2" fill="#fff" stroke="#0000FF" stroke-width="1"/><rect x="762.5" y="49.5" width="2" height="3" fill="#fff" stroke="#0000FF" stroke-width="1"/><rect x="764.5" y="48.5" width="2" height="3" fill="#fff" stroke="#0000FF" stroke-width="1"/><rect x="765" y="47" width="3" height="5" fill="#0000FF"/><rect x="767.5" y="48.5" width="2" height="5" fill="#fff" stroke="#0000FF" stroke-width="1"/><rect x="769.5" y="48.5" width="2" height="2" fill="#fff" stroke="#0000FF" stroke-width="1"/><rect x="771" y="47" width="3" height="4" fill="#0000FF"/><rect x="773" y="50" width="3" height="7" fill="#0000FF"/><rect x="774" y="54" width="3" height="9" fill="#0000FF"/><rect x="776" y="56" width="3" height="9" fill="#0000FF"/><rect x="778" y="60" width="3" height="12" fill="#0000FF"/><rect x="780.5" y="60.5" width="2" height="11" fill="#fff" stroke="#0000FF" stroke-width="1"/><rect x="782" y="60" width="3" height="11" fill="#0000FF"/><rect x="783" y="64" width="3" height="9" fill="#0000FF"/><rect x="785" y="69" width="3" height="6" fill="#0000FF"/><rect x="787" y="69" width="3" height="7" fill="#0000FF"/><rect x="789" y="72" width="3" height="4" fill="#0000FF"/><rect x="791" y="73" width="3" height="4" fill="#0000FF"/><rect x="792" y="74" width="3" height="4" fill="#0000FF"/><rect x="794" y="76" width="3" height="4" fill="#0000FF"/><rect x="796" y="78" width="3" height="8" fill="#0000FF"/><rect x="798" y="86" width="3" height="15" fill="#0000FF"/><rect x="800" y="98" width="3" height="4" fill="#0000FF"/><rect x="801" y="98" width="3" height="5" fill="#0000FF"/><rect x="803.5" y="100.5" width="2" height="5" fill="#fff" stroke="#0000FF" stroke-width="1"/><rect x="805.5" y="100.5" width="2" height="4" fill="#fff" stroke="#0000FF" stroke-width="1"/><rect x="807.5" y="90.5" width="2" height="11" fill="#fff" stroke="#0000FF" stroke-width="1"/><rect x="809.5" y="87.5" width="2" height="3" fill="#fff" stroke="#0000FF" stroke-width="1"/><rect x="810.5" y="82.5" width="2" height="6" fill="#fff" stroke="#0000FF" stroke-width="1"/><rect x="812" y="81" width="3" height="7" fill="#0000FF"/><rect x="814.5" y="83.5" width="2" height="4" fill="#fff" stroke="#0000FF" stroke-width="1"/><rect x="816" y="82" width="3" height="7" fill="#0000FF"/><rect x="818" y="83" width="3" height="7" fill="#0000FF"/><rect x="819.5" y="84.5" width="2" height="5" fill="#fff" stroke="#0000FF" stroke-width="1"/><rect x="821.5" y="82.5" width="2" height="7" fill="#fff" stroke="#0000FF" stroke-width="1"/><rect x="823" y="81" width="3" height="8" fill="#0000FF"/><rect x="825" y="85" width="3" height="4" fill="#0000FF"/><rect x="827" y="86" width="3" height="3" fill="#0000FF"/><rect x="828" y="87" width="3" height="6" fill="#0000FF"/><rect x="830" y="91" width="3" height="7" fill="#0000FF"/><rect x="832" y="96" width="3" height="7" fill="#0000FF"/><rect x="834" y="100" width="3" height="9" fill="#0000FF"/><rect x="836.5" y="104.5" width="2" height="10" fill="#fff" stroke="#0000FF" stroke-width="1"/><rect x="837.5" y="103.5" width="2" height="11" fill="#fff" stroke="#0000FF" stroke-width="1"/><rect x="837.5" y="53.5" width="2" height="3" fill="#fff" stroke="#0000FF" stroke-width="1"/><rect x="839.5" y="47.5" width="2" height="7" fill="#fff" stroke="#0000FF" stroke-width="1"/><rect x="841" y="45" width="3" height="7" fill="#0000FF"/><rect x="843" y="48" width="3" height="8" fill="#0000FF"/><rect x="844" y="52" width="3" height="9" fill="#0000FF"/><rect x="846" y="54" width="3" height="9" fill="#0000FF"/><rect x="848" y="54" width="3" height="12" fill="#0000FF"/><rect x="850" y="54" width="3" height="24" fill="#0000FF"/><rect x="852.5" y="58.5" width="2" height="21" fill="#fff" stroke="#0000FF" stroke-width="1"/><rect x="853.5" y="60.5" width="2" height="15" fill="#fff" stroke="#0000FF" stroke-width="1"/><rect x="855" y="60" width="3" height="12" fill="#0000FF"/><rect x="857" y="61" width="3" height="11" fill="#0000FF"/><rect x="859.5" y="63.5" width="2" height="9" fill="#fff" stroke="#0000FF" stroke-width="1"/><rect x="861.5" y="60.5" width="2" height="8" fill="#fff" stroke="#0000FF" stroke-width="1"/><rect x="862.5" y="58.5" width="2" height="6" fill="#fff" stroke="#0000FF" stroke-width="1"/><rect x="864" y="58" width="3" height="4" fill="#0000FF"/><rect x="866" y="58" width="3" height="6" fill="#0000FF"/><rect x="868" y="62" width="3" height="5" fill="#0000FF"/><rect x="870" y="65" width="3" height="5" fill="#0000FF"/><rect x="871.5" y="67.5" width="2" height="3" fill="#fff" stroke="#0000FF" stroke-width="1"/><rect x="873.5" y="65.5" width="2" height="4" fill="#fff" stroke="#0000FF" stroke-width="1"/><rect x="875.5" y="64.5" width="2" height="4" fill="#fff" stroke="#0000FF" stroke-width="1"/><rect x="877" y="64" width="3" height="5" fill="#0000FF"/><rect x="879" y="66" width="3" height="6" fill="#0000FF"/><rect x="880" y="70" width="3" height="7" fill="#0000FF"/><rect x="882.5" y="74.5" width="2" height="8" fill="#fff" stroke="#0000FF" stroke-width="1"/><rect x="884.5" y="73.5" width="2" height="8" fill="#fff" stroke="#0000FF" stroke-width="1"/><rect x="886" y="71" width="3" height="8" fill="#0000FF"/><rect x="888" y="71" width="3" height="10" fill="#0000FF"/><rect x="889" y="76" width="3" height="6" fill="#0000FF"/><rect x="891.5" y="78.5" width="2" height="3" fill="#fff" stroke="#0000FF" stroke-width="1"/><rect x="893.5" y="75.5" width="2" height="5" fill="#fff" stroke="#0000FF" stroke-width="1"/><rect x="895" y="70" width="3" height="5" fill="#0000FF"/><rect x="897.5" y="70.5" width="2" height="4" fill="#fff" stroke="#0000FF" stroke-width="1"/><rect x="898.5" y="71.5" width="2" height="3" fill="#fff" stroke="#0000FF" stroke-width="1"/><rect x="900.5" y="65.5" width="2" height="7" fill="#fff" stroke="#0000FF" stroke-width="1"/><rect x="902.5" y="60.5" width="2" height="8" fill="#fff" stroke="#0000FF" stroke-width="1"/><rect x="904" y="59" width="3" height="5" fill="#0000FF"/><rect x="906" y="60" width="3" height="5" fill="#0000FF"/><rect x="907" y="60" width="3" height="6" fill="#0000FF"/><rect x="909" y="63" width="3" height="9" fill="#0000FF"/><rect x="911.5" y="66.5" width="2" height="8" fill="#fff" stroke="#0000FF" stroke-width="1"/><rect x="913" y="68" width="3" height="5" fill="#0000FF"/><rect x="915" y="69" width="3" height="5" fill="#0000FF"/><rect x="916" y="72" width="3" height="5" fill="#0000FF"/><rect x="918" y="74" width="3" height="5" fill="#0000FF"/><rect x="920" y="77" width="3" height="7" fill="#0000FF"/><rect x="922" y="79" width="3" height="10" fill="#0000FF"/><rect x="924" y="85" width="3" height="16" fill="#0000FF"/><rect x="925" y="99" width="3" height="16" fill="#0000FF"/><rect x="927" y="106" width="3" height="18" fill="#0000FF"/><rect x="929.5" y="110.5" width="2" height="15" fill="#fff" stroke="#0000FF" stroke-width="1"/><rect x="931.5" y="105.5" width="2" height="8" fill="#fff" stroke="#0000FF" stroke-width="1"/><rect x="933.5" y="97.5" width="2" height="8" fill="#fff" stroke="#0000FF" stroke-width="1"/><rect x="934.5" y="91.5" width="2" height="7" fill="#fff" stroke="#0000FF" stroke-width="1"/><rect x="936.5" y="90.5" width="2" height="2" fill="#fff" stroke="#0000FF" stroke-width="1"/><rect x="938.5" y="84.5" width="2" height="6" fill="#fff" stroke="#0000FF" stroke-width="1"/><rect x="940.5" y="79.5" width="2" height="6" fill="#fff" stroke="#0000FF" stroke-width="1"/><rect x="942.5" y="78.5" width="2" height="3" fill="#fff" stroke="#0000FF" stroke-width="1"/><rect x="943.5" y="77.5" width="2" height="3" fill="#fff" stroke="#0000FF" stroke-width="1"/><rect x="945.5" y="75.5" width="2" height="4" fill="#fff" stroke="#0000FF" stroke-width="1"/><rect x="947.5" y="72.5" width="2" height="5" fill="#fff" stroke="#0000FF" stroke-width="1"/><rect x="949.5" y="69.5" width="2" height="5" fill="#fff" stroke="#0000FF" stroke-width="1"/><rect x="951" y="68" width="3" height="5" fill="#0000FF"/><rect x="952" y="68" width="3" height="5" fill="#0000FF"/><rect x="954" y="71" width="3" height="4" fill="#0000FF"/><rect x="956.5" y="71.5" width="2" height="4" fill="#fff" stroke="#0000FF" stroke-width="1"/><rect x="958.5" y="71.5" width="2" height="3" fill="#fff" stroke="#0000FF" stroke-width="1"/><rect x="960.5" y="63.5" width="2" height="8" fill="#fff" stroke="#0000FF" stroke-width="1"/><rect x="961.5" y="60.5" width="2" height="4" fill="#fff" stroke="#0000FF" stroke-width="1"/><rect x="963.5" y="57.5" width="2" height="4" fill="#fff" stroke="#0000FF" stroke-width="1"/><rect x="965.5" y="53.5" width="2" height="5" fill="#fff" stroke="#0000FF" stroke-width="1"/><rect x="967.5" y="54.5" width="2" height="2" fill="#fff" stroke="#0000FF" stroke-width="1"/><rect x="968.5" y="52.5" width="2" height="2" fill="#fff" stroke="#0000FF" stroke-width="1"/><rect x="970.5" y="50.5" width="2" height="3" fill="#fff" stroke="#0000FF" stroke-width="1"/><rect x="972" y="50" width="3" height="4" fill="#0000FF"/><rect x="974" y="54" width="3" height="5" fill="#0000FF"/><rect x="976" y="59" width="3" height="6" fill="#0000FF"/><rect x="977" y="64" width="3" height="5" fill="#0000FF"/><rect x="979" y="66" width="3" height="5" fill="#0000FF"/><rect x="981" y="67" width="3" height="6" fill="#0000FF"/><rect x="983.5" y="67.5" width="2" height="5" fill="#fff" stroke="#0000FF" stroke-width="1"/><rect x="985.5" y="66.5" width="2" height="6" fill="#fff" stroke="#0000FF" stroke-width="1"/><rect x="986.5" y="61.5" width="2" height="4" fill="#fff" stroke="#0000FF" stroke-width="1"/><rect x="988.5" y="56.5" width="2" height="7" fill="#fff" stroke="#0000FF" stroke-width="1"/><rect x="990.5" y="48.5" width="2" height="8" fill="#fff" stroke="#0000FF" stroke-width="1"/><rect x="992" y="47" width="3" height="5" fill="#0000FF"/><rect x="994.5" y="47.5" width="2" height="6" fill="#fff" stroke="#0000FF" stroke-width="1"/><rect x="995.5" y="47.5" width="2" height="6" fill="#fff" stroke="#0000FF" stroke-width="1"/><rect x="997.5" y="46.5" width="2" height="5" fill="#fff" stroke="#0000FF" stroke-width="1"/><rect x="999" y="47" width="3" height="5" fill="#0000FF"/><rect x="1001" y="50" width="3" height="4" fill="#0000FF"/><rect x="1003" y="52" width="3" height="5" fill="#0000FF"/><rect x="1004" y="54" width="3" height="6" fill="#0000FF"/><rect x="1006" y="58" width="3" height="5" fill="#0000FF"/><rect x="1008.5" y="61.5" width="2" height="3" fill="#fff" stroke="#0000FF" stroke-width="1"/><rect x="1010.5" y="59.5" width="2" height="4" fill="#fff" stroke="#0000FF" stroke-width="1"/><rect x="1012.5" y="58.5" width="2" height="3" fill="#fff" stroke="#0000FF" stroke-width="1"/><rect x="1013" y="57" width="3" height="5" fill="#0000FF"/><rect x="1015.5" y="58.5" width="2" height="3" fill="#fff" stroke="#0000FF" stroke-width="1"/><rect x="1017" y="58" width="3" height="4" fill="#0000FF"/><rect x="1019" y="58" width="3" height="6" fill="#0000FF"/><rect x="1021.5" y="61.5" width="2" height="2" fill="#fff" stroke="#0000FF" stroke-width="1"/>
<path d="M5 414h1v1h-1zM8 425h1v1h-1zM12 416h1v1h-1zM12 424h1v3h-1zM15 420h1v1h-1zM17 429h1v2h-1zM19 429h1v3h-1zM21 425h1v2h-1zM22 426h1v3h-1zM26 441h1v2h-1zM30 434h1v2h-1zM30 450h1v3h-1zM31 449h1v2h-1zM37 428h1v3h-1zM37 442h1v2h-1zM39 428h1v2h-1zM39 442h1v3h-1zM44 435h1v2h-1zM44 445h1v1h-1zM46 434h1v2h-1zM53 422h1v1h-1zM53 425h1v3h-1zM55 421h1v2h-1zM57 421h1v2h-1zM58 421h1v2h-1zM58 428h1v3h-1zM62 425h1v2h-1zM64 414h1v2h-1zM64 422h1v3h-1zM67 408h1v1h-1zM71 409h1v2h-1zM73 401h1v3h-1zM75 400h1v3h-1zM75 407h1v3h-1zM78 397h1v2h-1zM80 390h1v2h-1zM80 403h1v2h-1zM84 387h1v3h-1zM84 402h1v3h-1zM85 401h1v3h-1zM89 394h1v2h-1zM89 405h1v1h-1zM91 409h1v1h-1zM93 404h1v3h-1zM94 418h1v2h-1zM96 411h1v2h-1zM98 413h1v1h-1zM98 427h1v1h-1zM100 427h1v2h-1zM102 414h1v3h-1zM103 431h1v3h-1zM105 435h1v1h-1zM107 422h1v1h-1zM107 439h1v1h-1zM109 419h1v3h-1zM111 427h1v2h-1zM114 418h1v2h-1zM116 405h1v2h-1zM118 404h1v1h-1zM120 391h1v1h-1zM120 401h1v3h-1zM121 398h1v1h-1zM123 384h1v3h-1zM127 392h1v2h-1zM128 391h1v3h-1zM130 389h1v2h-1zM134 382h1v1h-1zM139 375h1v1h-1zM139 384h1v3h-1zM143 379h1v2h-1zM143 387h1v3h-1zM148 366h1v1h-1zM152 369h1v3h-1zM154 363h1v1h-1zM155 371h1v2h-1zM157 369h1v3h-1zM159 353h1v3h-1zM161 347h1v1h-1zM161 357h1v1h-1zM163 340h1v3h-1zM164 338h1v2h-1zM164 349h1v2h-1zM166 348h1v1h-1zM168 339h1v3h-1zM170 341h1v2h-1zM170 348h1v2h-1zM173 344h1v1h-1zM175 342h1v3h-1zM177 344h1v2h-1zM179 346h1v1h-1zM179 351h1v3h-1zM181 344h1v2h-1zM182 341h1v3h-1zM184 339h1v3h-1zM184 345h1v2h-1zM188 339h1v2h-1zM193 343h1v1h-1zM197 333h1v1h-1zM197 339h1v3h-1zM199 331h1v2h-1zM200 330h1v1h-1zM200 336h1v3h-1zM204 324h1v3h-1zM211 326h1v3h-1zM211 332h1v1h-1zM213 327h1v3h-1zM213 333h1v2h-1zM215 329h1v2h-1zM217 330h1v2h-1zM217 340h1v1h-1zM218 335h1v3h-1zM218 342h1v2h-1zM226 305h1v3h-1zM227 305h1v1h-1zM227 318h1v1h-1zM229 275h1v1h-1zM233 292h1v2h-1zM238 301h1v3h-1zM238 322h1v3h-1zM240 310h1v2h-1zM242 310h1v2h-1zM242 327h1v1h-1zM245 316h1v1h-1zM249 312h1v3h-1zM251 323h1v3h-1zM252 303h1v2h-1zM256 320h1v3h-1zM258 306h1v1h-1zM260 310h1v3h-1zM263 312h1v3h-1zM267 306h1v3h-1zM269 324h1v2h-1zM272 321h1v2h-1zM274 317h1v2h-1zM276 300h1v3h-1zM278 298h1v1h-1zM278 307h1v3h-1zM279 307h1v1h-1zM281 310h1v3h-1zM283 302h1v3h-1zM285 301h1v2h-1zM285 311h1v1h-1zM287 298h1v3h-1zM287 308h1v2h-1zM292 238h1v1h-1zM292 251h1v2h-1zM294 235h1v3h-1zM296 235h1v2h-1zM296 242h1v3h-1zM297 240h1v3h-1zM299 228h1v3h-1zM301 253h1v3h-1zM303 247h1v2h-1zM305 258h1v1h-1zM306 265h1v1h-1zM308 258h1v3h-1zM308 276h1v2h-1zM310 265h1v3h-1zM312 266h1v1h-1zM312 281h1v1h-1zM314 273h1v3h-1zM317 260h1v2h-1zM319 263h1v2h-1zM319 276h1v1h-1zM321 265h1v3h-1zM323 271h1v1h-1zM323 280h1v1h-1zM324 279h1v1h-1zM328 276h1v1h-1zM330 272h1v1h-1zM330 282h1v3h-1zM332 278h1v2h-1zM333 300h1v1h-1zM335 287h1v3h-1zM337 285h1v3h-1zM339 285h1v1h-1zM339 293h1v1h-1zM341 288h1v2h-1zM342 275h1v1h-1zM344 271h1v2h-1zM346 268h1v2h-1zM350 271h1v1h-1zM350 282h1v1h-1zM351 285h1v3h-1zM357 273h1v1h-1zM359 278h1v1h-1zM359 289h1v3h-1zM360 283h1v1h-1zM362 284h1v3h-1zM364 290h1v1h-1zM364 300h1v2h-1zM366 292h1v1h-1zM366 303h1v3h-1zM367 288h1v3h-1zM367 303h1v2h-1zM369 282h1v1h-1zM371 271h1v3h-1zM371 285h1v2h-1zM375 273h1v1h-1zM376 260h1v1h-1zM376 271h1v3h-1zM378 256h1v1h-1zM384 248h1v3h-1zM385 244h1v3h-1zM387 239h1v1h-1zM389 231h1v1h-1zM389 236h1v1h-1zM393 238h1v1h-1zM393 242h1v1h-1zM394 243h1v1h-1zM398 249h1v2h-1zM400 244h1v2h-1zM400 250h1v3h-1zM402 242h1v1h-1zM402 250h1v3h-1zM403 236h1v2h-1zM405 236h1v3h-1zM411 236h1v3h-1zM411 243h1v2h-1zM412 235h1v3h-1zM412 241h1v2h-1zM414 235h1v2h-1zM414 240h1v3h-1zM416 233h1v2h-1zM420 229h1v3h-1zM423 235h1v1h-1zM425 236h1v3h-1zM430 234h1v1h-1zM434 233h1v3h-1zM436 235h1v3h-1zM438 254h1v3h-1zM441 253h1v2h-1zM443 251h1v1h-1zM445 240h1v2h-1zM445 245h1v3h-1zM447 241h1v1h-1zM454 243h1v3h-1zM456 241h1v1h-1zM457 234h1v1h-1zM459 228h1v3h-1zM461 226h1v1h-1zM461 234h1v3h-1zM463 223h1v1h-1zM463 229h1v1h-1zM465 218h1v2h-1zM466 216h1v3h-1zM468 218h1v2h-1zM470 221h1v1h-1zM470 227h1v1h-1zM475 200h1v1h-1zM479 181h1v1h-1zM481 175h1v3h-1zM481 184h1v3h-1zM483 167h1v3h-1zM484 170h1v1h-1zM486 171h1v3h-1zM488 190h1v2h-1zM491 184h1v3h-1zM493 177h1v3h-1zM493 193h1v1h-1zM495 186h1v2h-1zM499 174h1v1h-1zM500 165h1v2h-1zM502 153h1v1h-1zM504 135h1v1h-1zM504 142h1v3h-1zM506 141h1v2h-1zM508 140h1v2h-1zM509 138h1v2h-1zM513 115h1v2h-1zM513 122h1v2h-1zM515 116h1v2h-1zM517 117h1v3h-1zM517 126h1v3h-1zM518 127h1v2h-1zM520 122h1v3h-1zM520 128h1v2h-1zM522 124h1v1h-1zM526 115h1v2h-1zM527 117h1v1h-1zM527 123h1v2h-1zM529 123h1v3h-1zM531 123h1v1h-1zM535 118h1v3h-1zM538 126h1v1h-1zM540 121h1v2h-1zM540 126h1v2h-1zM544 121h1v1h-1zM544 126h1v1h-1zM545 120h1v1h-1zM547 119h1v1h-1zM549 122h1v3h-1zM551 117h1v1h-1zM551 121h1v2h-1zM553 114h1v3h-1zM554 115h1v1h-1zM554 118h1v1h-1zM556 113h1v3h-1zM556 120h1v2h-1zM558 123h1v3h-1zM560 116h1v2h-1zM560 122h1v1h-1zM565 127h1v3h-1zM567 121h1v3h-1zM567 129h1v1h-1zM569 132h1v3h-1zM571 128h1v2h-1zM571 136h1v2h-1zM572 130h1v2h-1zM574 129h1v3h-1zM574 136h1v1h-1zM576 134h1v1h-1zM581 130h1v1h-1zM581 135h1v3h-1zM583 128h1v3h-1zM585 138h1v1h-1zM589 131h1v1h-1zM589 140h1v3h-1zM592 115h1v2h-1zM592 127h1v1h-1zM594 112h1v2h-1zM596 116h1v3h-1zM599 105h1v3h-1zM603 97h1v3h-1zM608 97h1v3h-1zM610 93h1v2h-1zM614 83h1v3h-1zM614 91h1v2h-1zM615 90h1v2h-1zM619 94h1v3h-1zM621 86h1v2h-1zM621 97h1v2h-1zM624 100h1v2h-1zM626 101h1v1h-1zM630 101h1v2h-1zM633 93h1v1h-1zM635 90h1v2h-1zM635 96h1v3h-1zM637 97h1v2h-1zM641 98h1v2h-1zM644 91h1v3h-1zM644 101h1v3h-1zM646 97h1v3h-1zM646 107h1v2h-1zM648 102h1v1h-1zM653 107h1v3h-1zM659 96h1v2h-1zM660 75h1v3h-1zM664 84h1v3h-1zM668 107h1v2h-1zM669 115h1v3h-1zM669 135h1v2h-1zM673 126h1v1h-1zM678 104h1v1h-1zM680 80h1v1h-1zM680 100h1v2h-1zM682 72h1v1h-1zM684 69h1v1h-1zM684 92h1v3h-1zM686 99h1v2h-1zM689 82h1v1h-1zM691 80h1v1h-1zM695 89h1v1h-1zM695 98h1v1h-1zM696 100h1v2h-1zM702 98h1v3h-1zM705 81h1v3h-1zM711 82h1v2h-1zM713 79h1v3h-1zM714 74h1v3h-1zM716 66h1v1h-1zM718 67h1v2h-1zM718 73h1v3h-1zM720 74h1v2h-1zM723 70h1v2h-1zM723 80h1v1h-1zM725 76h1v1h-1zM727 64h1v3h-1zM729 61h1v3h-1zM732 63h1v2h-1zM736 59h1v2h-1zM738 59h1v2h-1zM738 64h1v1h-1zM739 58h1v2h-1zM741 56h1v1h-1zM741 63h1v2h-1zM743 53h1v1h-1zM745 53h1v1h-1zM747 59h1v3h-1zM748 54h1v2h-1zM752 56h1v1h-1zM752 65h1v3h-1zM754 53h1v3h-1zM756 54h1v1h-1zM756 60h1v3h-1zM757 58h1v1h-1zM759 56h1v1h-1zM761 54h1v1h-1zM765 52h1v2h-1zM766 46h1v1h-1zM770 51h1v1h-1zM774 57h1v1h-1zM775 51h1v3h-1zM775 63h1v3h-1zM781 57h1v3h-1zM781 72h1v1h-1zM784 73h1v2h-1zM786 75h1v3h-1zM790 70h1v2h-1zM793 78h1v2h-1zM795 80h1v1h-1zM797 86h1v1h-1zM799 83h1v3h-1zM799 101h1v3h-1zM801 102h1v3h-1zM802 96h1v2h-1zM802 103h1v2h-1zM804 98h1v2h-1zM806 98h1v2h-1zM806 105h1v3h-1zM810 84h1v3h-1zM811 81h1v1h-1zM815 81h1v2h-1zM817 89h1v3h-1zM819 82h1v1h-1zM820 90h1v3h-1zM822 81h1v1h-1zM822 90h1v3h-1zM828 89h1v1h-1zM829 85h1v2h-1zM829 93h1v3h-1zM831 98h1v1h-1zM833 94h1v2h-1zM833 103h1v3h-1zM835 98h1v2h-1zM835 109h1v2h-1zM837 115h1v1h-1zM838 102h1v1h-1zM838 115h1v3h-1zM838 52h1v1h-1zM838 57h1v3h-1zM844 56h1v2h-1zM847 52h1v2h-1zM853 57h1v1h-1zM853 80h1v1h-1zM854 76h1v1h-1zM856 58h1v2h-1zM856 72h1v2h-1zM858 59h1v2h-1zM860 60h1v3h-1zM862 58h1v2h-1zM863 57h1v1h-1zM863 65h1v1h-1zM865 57h1v1h-1zM867 64h1v3h-1zM869 67h1v3h-1zM871 70h1v1h-1zM872 65h1v2h-1zM878 69h1v2h-1zM883 83h1v1h-1zM885 82h1v1h-1zM890 82h1v1h-1zM892 76h1v2h-1zM892 82h1v2h-1zM894 81h1v3h-1zM896 68h1v2h-1zM899 68h1v3h-1zM901 73h1v2h-1zM903 58h1v2h-1zM905 56h1v3h-1zM907 65h1v1h-1zM910 72h1v2h-1zM912 64h1v2h-1zM912 75h1v1h-1zM916 74h1v3h-1zM921 84h1v2h-1zM926 97h1v2h-1zM928 103h1v3h-1zM935 90h1v1h-1zM941 76h1v3h-1zM941 86h1v2h-1zM943 82h1v2h-1zM946 73h1v2h-1zM948 70h1v2h-1zM950 68h1v1h-1zM952 73h1v3h-1zM955 68h1v3h-1zM955 75h1v3h-1zM957 76h1v3h-1zM959 69h1v2h-1zM961 62h1v1h-1zM961 72h1v1h-1zM966 51h1v2h-1zM971 54h1v2h-1zM975 59h1v2h-1zM977 58h1v1h-1zM977 65h1v1h-1zM978 69h1v3h-1zM980 64h1v2h-1zM982 73h1v1h-1zM984 73h1v1h-1zM986 64h1v2h-1zM986 73h1v1h-1zM991 45h1v3h-1zM993 45h1v2h-1zM993 52h1v3h-1zM995 44h1v3h-1zM998 45h1v1h-1zM1000 46h1v1h-1zM1000 52h1v1h-1zM1002 54h1v3h-1zM1005 52h1v2h-1zM1007 55h1v3h-1zM1007 63h1v2h-1zM1011 64h1v1h-1zM1013 62h1v1h-1zM1016 55h1v3h-1zM1020 64h1v1h-1zM1022 64h1v3h-1z" fill="#0000FF"/>
<path d="M74 406h1v10h-1zM106 432h1v19h-1zM223 345h1v1h-1zM264 308h1v19h-1zM298 226h1v5h-1zM332 295h1v19h-1zM533 114h1v5h-1zM555 113h1v2h-1zM613 81h1v5h-1zM656 108h1v25h-1zM659 71h1v5h-1zM670 130h1v18h-1zM733 55h1v3h-1zM798 92h1v9h-1zM817 90h1v5h-1zM837 97h1v6h-1zM841 39h1v7h-1zM839 57h1v14h-1zM1008 65h1v5h-1zM995 44h1v3h-1zM928 126h1v2h-1zM22 434h1v2h-1zM52 419h1v4h-1zM78 405h1v5h-1zM43 440h1v6h-1zM188 326h1v4h-1z" fill="#0000FF"/>
<rect x="716" y="46" width="365" height="1" fill="#0066CC"/>
<rect x="837" y="117" width="135" height="1" fill="#0066CC"/>
<rect x="912" y="127" width="149" height="1" fill="#0066CC"/>
<rect x="571" y="142" width="149" height="1" fill="#0066CC"/>
<rect x="480" y="198" width="386" height="1" fill="#0066CC"/>
<rect x="435" y="255" width="121" height="1" fill="#0066CC"/>
<rect x="289" y="305" width="180" height="1" fill="#0066CC"/>
<rect x="96" y="451" width="216" height="1" fill="#0066CC"/>
<line x1="5.5" y1="477.5" x2="238" y2="477.5" stroke="#0066CC" stroke-width="1" stroke-dasharray="3 3"/>
<line x1="22.3" y1="481" x2="909.6" y2="167.9" stroke="#0066CC" stroke-width="2.2"/>
<text filter="url(#crisp)" x="1081.5" y="46" font-family="Liberation Sans, sans-serif" font-weight="bold" font-size="12.2" letter-spacing="1.25" fill="#FF0000">8.579</text>
<text filter="url(#crisp)" x="975.5" y="122.5" font-family="Liberation Sans, sans-serif" font-weight="bold" font-size="12.2" letter-spacing="0.85" fill="#FF0000">8.473 / 8.454</text>
<text filter="url(#crisp)" x="720.5" y="146" font-family="Liberation Sans, sans-serif" font-weight="bold" font-size="12.2" letter-spacing="1.25" fill="#FF0000">8.436</text>
<text filter="url(#crisp)" x="868.5" y="201" font-family="Liberation Sans, sans-serif" font-weight="bold" font-size="12.2" letter-spacing="1.25" fill="#FF0000">8.350</text>
<text filter="url(#crisp)" x="510.5" y="270" font-family="Liberation Sans, sans-serif" font-weight="bold" font-size="12.2" letter-spacing="1.25" fill="#FF0000">8.263</text>
<text filter="url(#crisp)" x="424.5" y="299.8" font-family="Liberation Sans, sans-serif" font-weight="bold" font-size="12.2" letter-spacing="1.25" fill="#FF0000">8.185</text>
<text filter="url(#crisp)" x="313.5" y="454" font-family="Liberation Sans, sans-serif" font-weight="bold" font-size="12.2" letter-spacing="1.25" fill="#FF0000">7.966</text>
<rect x="75" y="459.5" width="171" height="13" fill="#FFFFFF"/>
<text x="75.5" y="470.3" font-family="Liberation Sans, sans-serif" font-weight="bold" font-size="16" letter-spacing="0.45" fill="#A9AACB">www.visualchart.com</text>
<text filter="url(#crisp4)" x="3.3" y="491.9" font-family="Liberation Sans, sans-serif" font-size="10.93" xml:space="preserve"><tspan fill="#FF0000">MACD_.IBEX MACD: </tspan><tspan fill="#0000FF">0,5827 </tspan><tspan fill="#FF0000">MediaSIG: </tspan><tspan fill="#0000FF">2,8168 Band_MACD: 0,0000 </tspan><tspan fill="#FF0000">P: 133,5199</tspan></text>
<rect x="6" y="618" width="1014" height="1" fill="#0000FF"/>
<line x1="381" y1="560.5" x2="547" y2="560.5" stroke="#0066CC" stroke-width="1" stroke-dasharray="3 3"/>
<polyline points="6.6,605.6 7.6,606.9 8.6,608.1 9.6,609.4 10.6,610.7 11.6,612 12.6,613.2 13.6,614.5 14.6,615.8 15.6,617 16.6,618.3 17.6,619.5 18.6,620.8 19.6,622 20.6,623.3 21.6,624.5 22.6,625.8 23.6,627 24.6,628.3 25.6,629.5 26.6,630.9 27.6,632.4 28.6,633.9 29.6,635.4 30.6,636.9 31.6,638.4 32.6,639.9 33.6,641.4 34.6,642.9 35.6,643.5 36.6,643.4 37.6,643.4 38.6,643.3 39.6,643.3 40.6,643.2 41.6,643.1 42.6,643.1 43.6,643 44.6,643 45.6,642.9 46.6,642.9" fill="none" stroke="#FF0000" stroke-width="1.1" stroke-dasharray="1 1.6"/>
<polyline points="46.6,642.9 47.6,642.8 48.6,642.1 49.6,640.9 50.6,639.7 51.6,638.5 52.6,637.3 53.6,636.1 54.6,634.9 55.6,633.7 56.6,632.4 57.6,631.2 58.6,629.9 59.6,628.4 60.6,626.9 61.6,625.4 62.6,623.9 63.6,622.4 64.6,620.9 65.6,619.4 66.6,617.9 67.6,616.2 68.6,614.3 69.6,612.5 70.6,610.7 71.6,608.8 72.6,607 73.6,605.1 74.6,603.3 75.6,601.4 76.6,599.6 77.6,597.9 78.6,596.6 79.6,595.3 80.6,594.1 81.6,592.8 82.6,591.5 83.6,590.2 84.6,588.9 85.6,587.6 86.6,586.4 87.6,585.2 88.6,585.5 89.6,585.7" fill="none" stroke="#000" stroke-width="1.1" stroke-dasharray="1 1.6"/>
<polyline points="89.6,585.7 90.6,586 91.6,586.3 92.6,586.5 93.6,587.3 94.6,589.3 95.6,591.3 96.6,593.3 97.6,595.3 98.6,597.3 99.6,599.3 100.6,601.3 101.6,603.5 102.6,605.7 103.6,607.9 104.6,610.1 105.6,612.3 106.6,614.5 107.6,616.6 108.6,618 109.6,619 110.6,620 111.6,621 112.6,622 113.6,623" fill="none" stroke="#FF0000" stroke-width="1.1" stroke-dasharray="1 1.6"/>
<polyline points="113.6,623 114.6,623.7 115.6,622 116.6,620.3 117.6,618.7 118.6,617 119.6,615.3 120.6,613.6 121.6,611.9 122.6,610.2 123.6,608.5 124.6,606.8 125.6,605.1 126.6,603.4 127.6,601.7 128.6,600 129.6,598.3 130.6,596.6 131.6,594.7 132.6,592.5 133.6,590.3 134.6,588 135.6,585.8 136.6,583.5 137.6,582.8 138.6,582.4 139.6,582 140.6,581.6 141.6,581.2 142.6,580.8 143.6,580.4 144.6,580 145.6,579.6 146.6,579.1 147.6,578.7 148.6,578.3 149.6,577.9 150.6,577.4 151.6,577 152.6,576.6 153.6,576.1 154.6,575.7 155.6,575.3 156.6,574.9 157.6,574.2 158.6,573.3 159.6,572.4 160.6,571.4 161.6,570.5 162.6,569.6 163.6,568.6 164.6,567.7 165.6,566.8 166.6,565.8 167.6,564.9 168.6,564 169.6,563 170.6,562.1 171.6,562.2 172.6,562.6 173.6,563.1 174.6,563.5" fill="none" stroke="#000" stroke-width="1.1" stroke-dasharray="1 1.6"/>
<polyline points="174.6,563.5 175.6,563.9 176.6,564.3 177.6,564.7 178.6,565.1 179.6,565.5 180.6,565.9 181.6,566.4 182.6,566.9 183.6,567.4 184.6,567.9 185.6,568.4 186.6,568.9 187.6,569.4" fill="none" stroke="#FF0000" stroke-width="1.1" stroke-dasharray="1 1.6"/>
<polyline points="187.6,569.4 188.6,569.9 189.6,570.4 190.6,570.9 191.6,571.4" fill="none" stroke="#000" stroke-width="1.1" stroke-dasharray="1 1.6"/>
<polyline points="191.6,571.4 192.6,571.9 193.6,572.4 194.6,572.9 195.6,573.3 196.6,573.8 197.6,574.2 198.6,574.7 199.6,575.1 200.6,575.6 201.6,576 202.6,576.5 203.6,576.9 204.6,577.3 205.6,577.8 206.6,578.2 207.6,578.7" fill="none" stroke="#FF0000" stroke-width="1.1" stroke-dasharray="1 1.6"/>
<polyline points="207.6,578.7 208.6,579.1" fill="none" stroke="#000" stroke-width="1.1" stroke-dasharray="1 1.6"/>
<polyline points="208.6,579.1 209.6,579.6 210.6,580.4 211.6,581.4 212.6,582.4 213.6,583.4 214.6,584.4 215.6,585.4 216.6,586.4 217.6,587.4 218.6,588.4 219.6,589.4 220.6,590.4 221.6,591.4 222.6,592.4 223.6,593.4 224.6,594.4 225.6,594.1 226.6,591.7" fill="none" stroke="#FF0000" stroke-width="1.1" stroke-dasharray="1 1.6"/>
<polyline points="226.6,591.7 227.6,589.4 228.6,587.1 229.6,584.7 230.6,582.4 231.6,580.1 232.6,577.7 233.6,575.4 234.6,573.1 235.6,571.3 236.6,571.6 237.6,571.9" fill="none" stroke="#000" stroke-width="1.1" stroke-dasharray="1 1.6"/>
<polyline points="237.6,571.9 238.6,572.3 239.6,572.6 240.6,572.9 241.6,573.3 242.6,573.6 243.6,573.9 244.6,574.3 245.6,574.6 246.6,576 247.6,577.3 248.6,578.7 249.6,580.1 250.6,581.4 251.6,582.8 252.6,584.2 253.6,585.5 254.6,586.9 255.6,588.2 256.6,589.6 257.6,591 258.6,592.3 259.6,593.6 260.6,594.5 261.6,595.3 262.6,596.2 263.6,597.1 264.6,598 265.6,598.9 266.6,599.8 267.6,600.7 268.6,601.6 269.6,602.5 270.6,603.3 271.6,604.2 272.6,605.1 273.6,606 274.6,606.9 275.6,606.6" fill="none" stroke="#FF0000" stroke-width="1.1" stroke-dasharray="1 1.6"/>
<polyline points="275.6,606.6 276.6,606.3 277.6,606" fill="none" stroke="#000" stroke-width="1.1" stroke-dasharray="1 1.6"/>
<polyline points="277.6,606 278.6,605.7 279.6,605.4 280.6,605 281.6,604.7 282.6,604.4 283.6,604.1 284.6,603.8 285.6,603.5 286.6,603.2 287.6,602.9 288.6,601.1" fill="none" stroke="#FF0000" stroke-width="1.1" stroke-dasharray="1 1.6"/>
<polyline points="288.6,601.1 289.6,597 290.6,592.9 291.6,588.8 292.6,584.7 293.6,580.6 294.6,576.5 295.6,572.4 296.6,568.4 297.6,564.3 298.6,560.5 299.6,558 300.6,555.5 301.6,553 302.6,550.5 303.6,548 304.6,545.5 305.6,544.6 306.6,546 307.6,547.4" fill="none" stroke="#000" stroke-width="1.1" stroke-dasharray="1 1.6"/>
<polyline points="307.6,547.4 308.6,548.9 309.6,550.3 310.6,551.7 311.6,553.1 312.6,554.6 313.6,556 314.6,557.4 315.6,558.9 316.6,560.3 317.6,562.8 318.6,566.5 319.6,570.1 320.6,572.9 321.6,575 322.6,577.2 323.6,579.4 324.6,581.5 325.6,583.7 326.6,585.8 327.6,588 328.6,590.1 329.6,592.3 330.6,594.4 331.6,597.3 332.6,600.6 333.6,603.9 334.6,607.2 335.6,610.4 336.6,613.7 337.6,617 338.6,619.2 339.6,619.7 340.6,620.2 341.6,620.7 342.6,621.2 343.6,621.7 344.6,622.2" fill="none" stroke="#FF0000" stroke-width="1.1" stroke-dasharray="1 1.6"/>
<polyline points="344.6,622.2 345.6,622.6 346.6,622.4 347.6,622.3 348.6,622.1 349.6,621.9 350.6,621.8 351.6,621.6 352.6,621.4 353.6,621.3 354.6,621.1 355.6,620.9" fill="none" stroke="#000" stroke-width="1.1" stroke-dasharray="1 1.6"/>
<polyline points="355.6,620.9 356.6,620.9 357.6,621.7 358.6,622.5 359.6,623.2 360.6,624 361.6,624.8 362.6,625.6 363.6,626.4 364.6,627.2 365.6,628 366.6,628.8 367.6,629.5 368.6,630.3 369.6,630.1 370.6,628.4" fill="none" stroke="#FF0000" stroke-width="1.1" stroke-dasharray="1 1.6"/>
<polyline points="370.6,628.4 371.6,626.6 372.6,624.9 373.6,623.2 374.6,621.4 375.6,619.7 376.6,618 377.6,616.2 378.6,614.5 379.6,612.7 380.6,610.5 381.6,607.5 382.6,604.5 383.6,601.5 384.6,598.5 385.6,595.5 386.6,592.5 387.6,589.6 388.6,587.6 389.6,585.6 390.6,583.6 391.6,581.6 392.6,579.6 393.6,577.6 394.6,575.6 395.6,573.6 396.6,571.6 397.6,572" fill="none" stroke="#000" stroke-width="1.1" stroke-dasharray="1 1.6"/>
<polyline points="397.6,572 398.6,572.3 399.6,572.7 400.6,573.1 401.6,573.4 402.6,573.8 403.6,574.2 404.6,574.7 405.6,575.2 406.6,575.8 407.6,576.3 408.6,576.9 409.6,577.4 410.6,578 411.6,578.5 412.6,579.1 413.6,579.6 414.6,580.2 415.6,580.7 416.6,581.3 417.6,581.8 418.6,582.4 419.6,582.9 420.6,583.5 421.6,584 422.6,584.7" fill="none" stroke="#FF0000" stroke-width="1.1" stroke-dasharray="1 1.6"/>
<polyline points="422.6,584.7 423.6,585.6 424.6,586.4 425.6,587.2 426.6,588.1 427.6,588.9 428.6,589.7" fill="none" stroke="#000" stroke-width="1.1" stroke-dasharray="1 1.6"/>
<polyline points="428.6,589.7 429.6,590.6 430.6,591.4 431.6,592.2 432.6,593.1 433.6,594.2 434.6,595.6 435.6,597 436.6,598.4 437.6,599.7 438.6,601.1 439.6,602.5 440.6,603.9 441.6,605.2 442.6,606.6 443.6,608 444.6,609.4 445.6,610.7 446.6,612.1 447.6,613.5 448.6,613.4 449.6,613.3 450.6,613.3 451.6,613.2 452.6,613.1 453.6,613 454.6,612.9 455.6,612.8" fill="none" stroke="#FF0000" stroke-width="1.1" stroke-dasharray="1 1.6"/>
<polyline points="455.6,612.8 456.6,612.8 457.6,612.7 458.6,612.6 459.6,611.4 460.6,610.2 461.6,608.9 462.6,607.7 463.6,606.5 464.6,605.3 465.6,604.1 466.6,602.8 467.6,601.6 468.6,600.4 469.6,599.2 470.6,598 471.6,596.4 472.6,594.2 473.6,592 474.6,589.8 475.6,587.6 476.6,585.4 477.6,583.2 478.6,581 479.6,578.8 480.6,576.4 481.6,573.1 482.6,569.9 483.6,566.6 484.6,563.4 485.6,560.1 486.6,556.9 487.6,553.6 488.6,552.7 489.6,551.9 490.6,551.2" fill="none" stroke="#000" stroke-width="1.1" stroke-dasharray="1 1.6"/>
<polyline points="490.6,551.2 491.6,550.5 492.6,549.8 493.6,549.1 494.6,548.4 495.6,547.7 496.6,547 497.6,546.3 498.6,545.6 499.6,544.8 500.6,544" fill="none" stroke="#FF0000" stroke-width="1.1" stroke-dasharray="1 1.6"/>
<polyline points="500.6,544 501.6,542 502.6,540 503.6,538 504.6,536 505.6,534 506.6,532 507.6,530 508.6,528 509.6,526 510.6,524.7 511.6,523.4 512.6,522.1 513.6,520.8 514.6,519.5 515.6,518.2 516.6,516.9 517.6,516.3 518.6,517.2 519.6,518.1 520.6,519 521.6,519.9" fill="none" stroke="#000" stroke-width="1.1" stroke-dasharray="1 1.6"/>
<polyline points="521.6,519.9 522.6,520.9 523.6,521.8 524.6,522.7 525.6,523.6 526.6,524.5 527.6,525.4 528.6,526.5 529.6,527.7 530.6,529 531.6,530.2 532.6,531.5 533.6,532.7 534.6,534 535.6,535.3 536.6,537.5 537.6,539.6 538.6,541.8 539.6,543.9 540.6,546.1 541.6,548.2 542.6,550.4 543.6,552.6 544.6,554.7 545.6,556.9 546.6,559 547.6,560.6 548.6,562.3 549.6,564 550.6,565.6 551.6,567.3 552.6,569 553.6,570.7 554.6,572.3 555.6,574 556.6,575.7 557.6,577.3 558.6,578.9 559.6,580.5 560.6,582 561.6,583.6 562.6,585.2 563.6,586.7 564.6,588.3 565.6,589.9 566.6,591.4 567.6,593 568.6,594.6 569.6,596.2 570.6,597.6 571.6,598.9 572.6,600.2 573.6,601.5 574.6,602.8 575.6,604.1 576.6,605.4 577.6,606.7 578.6,607.9 579.6,609.2 580.6,610.5 581.6,611.8 582.6,613.1 583.6,614 584.6,614.8 585.6,615.5 586.6,616.3 587.6,617 588.6,617.8 589.6,618.5 590.6,618.3 591.6,616.5" fill="none" stroke="#FF0000" stroke-width="1.1" stroke-dasharray="1 1.6"/>
<polyline points="591.6,616.5 592.6,614.8 593.6,613 594.6,611.3 595.6,609.5 596.6,607.8 597.6,606 598.6,604.5 599.6,603 600.6,601.5 601.6,600 602.6,598.5 603.6,597 604.6,595.5 605.6,594 606.6,592.5 607.6,591 608.6,589.6 609.6,588.5 610.6,587.4 611.6,586.4 612.6,585.3 613.6,584.2 614.6,583.1 615.6,582.1 616.6,581 617.6,579.9 618.6,578.9 619.6,578.1 620.6,578.7 621.6,579.3 622.6,579.8 623.6,580.4" fill="none" stroke="#000" stroke-width="1.1" stroke-dasharray="1 1.6"/>
<polyline points="623.6,580.4 624.6,581 625.6,581.6 626.6,582.2 627.6,582.7 628.6,583.3 629.6,583.9 630.6,584.6 631.6,585.4 632.6,586.3 633.6,587.2 634.6,588.1 635.6,588.9 636.6,589.8 637.6,590.7 638.6,591.6 639.6,592.5 640.6,593.3 641.6,594.2 642.6,595.1 643.6,596 644.6,596.8 645.6,597.9 646.6,599.1 647.6,600.2 648.6,601.4 649.6,602.6 650.6,603.7 651.6,604.9 652.6,606.1 653.6,607.2 654.6,608.4 655.6,609.6 656.6,609.4" fill="none" stroke="#FF0000" stroke-width="1.1" stroke-dasharray="1 1.6"/>
<polyline points="656.6,609.4 657.6,608.6 658.6,607.8 659.6,607.1 660.6,606.3 661.6,605.5 662.6,604.8 663.6,605.3" fill="none" stroke="#000" stroke-width="1.1" stroke-dasharray="1 1.6"/>
<polyline points="663.6,605.3 664.6,607 665.6,608.8 666.6,610.5 667.6,612.3 668.6,614 669.6,615.8 670.6,617.6 671.6,619.8 672.6,621.9 673.6,624 674.6,626.1 675.6,628.3 676.6,630.4 677.6,629.3" fill="none" stroke="#FF0000" stroke-width="1.1" stroke-dasharray="1 1.6"/>
<polyline points="677.6,629.3 678.6,627.4 679.6,625.5 680.6,623.6 681.6,621.7 682.6,619.8 683.6,617.9 684.6,616.1 685.6,614.9 686.6,614.3 687.6,613.7 688.6,613.1 689.6,612.4 690.6,611.8 691.6,611.2 692.6,610.6 693.6,609.9 694.6,609.3 695.6,608.7 696.6,608.1 697.6,607.4" fill="none" stroke="#000" stroke-width="1.1" stroke-dasharray="1 1.6"/>
<polyline points="697.6,607.4 698.6,606.8 699.6,606.2 700.6,605.9 701.6,605.6 702.6,605.3 703.6,605" fill="none" stroke="#FF0000" stroke-width="1.1" stroke-dasharray="1 1.6"/>
<polyline points="703.6,605 704.6,604.6 705.6,604.3 706.6,604 707.6,603.7 708.6,603.4 709.6,603.1 710.6,602.4 711.6,601.3 712.6,600.1 713.6,598.9 714.6,597.8 715.6,596.6 716.6,595.4 717.6,594.3 718.6,593.1 719.6,591.9 720.6,590.9 721.6,590.6 722.6,590.4 723.6,590.1 724.6,589.8 725.6,589.5 726.6,589.2 727.6,588.9 728.6,588.6 729.6,588.1 730.6,587.6 731.6,587.1 732.6,586.6 733.6,586.1 734.6,585.6 735.6,585.1 736.6,584.6 737.6,584.2 738.6,584.1 739.6,584.1 740.6,584 741.6,583.9 742.6,583.9 743.6,583.8 744.6,583.7 745.6,583.6 746.6,583.6" fill="none" stroke="#000" stroke-width="1.1" stroke-dasharray="1 1.6"/>
<polyline points="746.6,583.6 747.6,583.5 748.6,583.4 749.6,583.5 750.6,584 751.6,584.5 752.6,585 753.6,585.5 754.6,586 755.6,586.5 756.6,587 757.6,587.5 758.6,588 759.6,588.5 760.6,589 761.6,589.4 762.6,589.6" fill="none" stroke="#FF0000" stroke-width="1.1" stroke-dasharray="1 1.6"/>
<polyline points="762.6,589.6 763.6,589.8 764.6,590 765.6,590.3 766.6,590.5 767.6,590.7 768.6,590.9 769.6,591.1 770.6,591.4 771.6,591.6" fill="none" stroke="#000" stroke-width="1.1" stroke-dasharray="1 1.6"/>
<polyline points="771.6,591.6 772.6,591.8 773.6,592.6 774.6,594 775.6,595.3 776.6,596.7 777.6,598.1 778.6,599.4 779.6,600.8 780.6,602.4 781.6,604 782.6,605.7 783.6,607.4 784.6,609 785.6,610.7 786.6,612.4 787.6,614 788.6,615.7 789.6,617.4 790.6,618.9 791.6,620.3 792.6,621.7 793.6,623.1 794.6,624.5 795.6,625.9 796.6,627.3 797.6,628.7 798.6,630.1 799.6,632.4 800.6,634.8 801.6,637.1 802.6,639.4 803.6,641.8 804.6,644.1 805.6,646.4 806.6,648.8 807.6,651.1 808.6,653.4 809.6,653.4 810.6,652.7" fill="none" stroke="#FF0000" stroke-width="1.1" stroke-dasharray="1 1.6"/>
<polyline points="810.6,652.7 811.6,652 812.6,651.4 813.6,650.7 814.6,650 815.6,649.4 816.6,648.7 817.6,648 818.6,647.4 819.6,646.7 820.6,646 821.6,645.4 822.6,644.7 823.6,644.1 824.6,643.4 825.6,642.7 826.6,642.1 827.6,641.4 828.6,640.8 829.6,640.3 830.6,640.3" fill="none" stroke="#000" stroke-width="1.1" stroke-dasharray="1 1.6"/>
<polyline points="830.6,640.3 831.6,640.3 832.6,640.3 833.6,640.3 834.6,640.3 835.6,640.3 836.6,640.3 837.6,640.3 838.6,637.9" fill="none" stroke="#FF0000" stroke-width="1.1" stroke-dasharray="1 1.6"/>
<polyline points="838.6,637.9 839.6,634.9 840.6,631.9 841.6,628.9 842.6,625.9 843.6,622.9 844.6,619.9 845.6,617.4 846.6,614.9 847.6,612.4 848.6,609.9 849.6,607.4 850.6,604.9 851.6,602.8 852.6,602.2 853.6,601.6 854.6,601.1 855.6,600.5 856.6,599.9 857.6,599.4 858.6,598.8 859.6,598.2 860.6,597.6 861.6,597.1 862.6,596.5 863.6,596.2 864.6,596.5 865.6,596.8 866.6,597.1 867.6,597.5 868.6,597.8" fill="none" stroke="#000" stroke-width="1.1" stroke-dasharray="1 1.6"/>
<polyline points="868.6,597.8 869.6,598.1 870.6,598.4 871.6,598.7 872.6,599 873.6,599.4 874.6,599.7 875.6,600 876.6,600.3 877.6,601.1 878.6,602.2 879.6,603.3 880.6,604.3 881.6,605.4 882.6,606.4 883.6,607.5 884.6,608.6 885.6,609.6 886.6,610.7 887.6,611.7 888.6,612.8 889.6,613.8 890.6,614.9 891.6,615.8 892.6,616.8 893.6,617.7 894.6,618.7 895.6,619.6 896.6,619.5 897.6,619.2 898.6,618.9 899.6,618.5 900.6,618.2 901.6,617.9" fill="none" stroke="#FF0000" stroke-width="1.1" stroke-dasharray="1 1.6"/>
<polyline points="901.6,617.9 902.6,617.6 903.6,617.2 904.6,616.9 905.6,616.4 906.6,615.9 907.6,615.4 908.6,614.9 909.6,614.4 910.6,614.1 911.6,614.4 912.6,614.7" fill="none" stroke="#000" stroke-width="1.1" stroke-dasharray="1 1.6"/>
<polyline points="912.6,614.7 913.6,615.1 914.6,615.4 915.6,615.7 916.6,616 917.6,616.4 918.6,616.7 919.6,617.5 920.6,619.1 921.6,620.7 922.6,622.3 923.6,623.9 924.6,625.5 925.6,627.1 926.6,628.8 927.6,632.1 928.6,635.4 929.6,638.7 930.6,641.9 931.6,645.2 932.6,647.7 933.6,648.5 934.6,649.2 935.6,650 936.6,650.8 937.6,651.5" fill="none" stroke="#FF0000" stroke-width="1.1" stroke-dasharray="1 1.6"/>
<polyline points="937.6,651.5 938.6,651.2 939.6,649.7 940.6,648.2 941.6,646.7 942.6,645.2 943.6,643.7 944.6,642 945.6,640.2 946.6,638.4 947.6,636.6 948.6,634.8 949.6,633.1 950.6,631.3 951.6,629.4 952.6,627.4 953.6,625.4 954.6,623.4 955.6,621.4 956.6,619.3 957.6,617.3 958.6,615.3 959.6,613.3 960.6,611.4 961.6,609.7 962.6,607.9 963.6,606.2 964.6,604.4 965.6,602.7 966.6,601.3 967.6,600 968.6,598.7 969.6,597.4 970.6,596.1 971.6,594.8 972.6,593.5 973.6,592.8 974.6,592.7 975.6,592.6 976.6,592.5 977.6,592.4" fill="none" stroke="#000" stroke-width="1.1" stroke-dasharray="1 1.6"/>
<polyline points="977.6,592.4 978.6,592.3 979.6,592.2 980.6,592.3 981.6,593.3 982.6,594.3 983.6,595.3 984.6,596.3 985.6,597.2 986.6,598.2 987.6,599.2 988.6,600.2 989.6,600.5" fill="none" stroke="#FF0000" stroke-width="1.1" stroke-dasharray="1 1.6"/>
<polyline points="989.6,600.5 990.6,599.9 991.6,599.3 992.6,598.7 993.6,598 994.6,597.4 995.6,596.8 996.6,596.1 997.6,595.5 998.6,594.9 999.6,594.3 1000.6,593.6 1001.6,594.2 1002.6,595 1003.6,595.8 1004.6,596.7" fill="none" stroke="#000" stroke-width="1.1" stroke-dasharray="1 1.6"/>
<polyline points="1004.6,596.7 1005.6,597.5 1006.6,598.3 1007.6,599.1 1008.6,600 1009.6,600.8 1010.6,601.6 1011.6,602.5 1012.6,603.3 1013.6,604.2 1014.6,605 1015.6,605.8 1016.6,606.7 1017.6,607.5 1018.6,608.1" fill="none" stroke="#FF0000" stroke-width="1.1" stroke-dasharray="1 1.6"/>
<polyline points="6.6,608.5 8.7,614.4 11.7,619.5 14.6,623.9 17.5,627.5 19,631.9 21.9,637.7 25.5,639.2 27.7,649.4 31.4,650.8 35,650.1 37.9,644.3 42.3,644.7 46.7,643.5 48.9,639.2 51,630.4 54,624.6 56.9,619.5 59.8,618 62.7,614.4 65.6,608.5 68.5,601.3 71.5,592.5 74.4,588.9 77.3,585.9 80.9,582.3 84.6,578.6 87.5,577.6 89.7,583.8 92.6,591 95.5,598.3 97,608.5 99.9,612.9 102.8,623.1 105,626 107.2,632.6 110.8,630.4 113.8,626.8 115.2,618.8 118.1,607.1 121,601.3 124,594 126.9,589.6 130.5,585.2 133.4,575.7 137.1,572.8 141.9,576.3 143.6,579.7 148.7,573.8 152.1,572.9 157.2,572.9 160.6,567.8 164,557.6 169.1,556.8 174.2,561 176.8,566.1 181,571.2 184.4,573.8 188.7,568.7 192.1,570.4 194.6,577.2 198,579.7 203.1,579.7 205.7,578 209.1,578.9 213.3,584.8 216.7,593.3 221,600.1 223.5,606 226.9,593.3 229.5,557.6 232.9,552.5 236.3,557.6 238.8,576.3 242.2,579.7 245.6,580.6 249,595 251.6,596.7 255.9,600.1 260.1,596.7 264.4,601.8 267.8,606.9 272,612.9 277.1,605.2 281.4,606.1 284.8,603.5 289,602.7 290.7,564.4 295,542.3 299.2,521.9 303.5,532.1 306.9,540.6 310.3,566.1 315.4,576.3 317.9,583.1 321.3,596.7 326.4,598.9 329.1,604.4 330.9,615.3 333.7,629.9 336.4,634.5 340,634.5 342.8,629.9 346.4,619 349.2,619 352.8,619.9 356.5,620.8 360.1,626.3 364.7,635.4 368.3,635.4 372,624.4 374.7,616.2 378.3,602.6 382,586.2 385.6,567.9 389.3,560.6 392.9,562.5 396.6,569.8 400.2,574.3 404.8,578 409.3,582.5 414.8,584.3 420.3,584.3 424.8,585.2 429.4,589.8 432.1,596.2 434.9,600.7 437.6,609.9 440.3,616.2 445.8,617.2 451.3,617.2 454.9,613.5 458.6,609 462.2,602.6 465.9,592.5 470.4,591.6 473.1,589.8 475,580.7 477.7,567.9 480.4,553.3 483.2,541.5 486.8,538.8 489.6,546 492.3,553.3 496.8,551.5 500.5,546 502.3,527.8 505.9,521.4 509.6,515.1 513.3,505.9 516,506.9 518.2,509.6 521,517.8 524.6,524.2 528.2,529.6 531.9,536.9 534.6,544.2 537.3,555.2 541,564.3 544.6,572.5 548.3,575.2 553.8,578.9 557.4,584.3 562,589.8 565.6,596.2 569.3,602.6 572,611.7 576.5,618.1 581.1,620.8 584.8,619 588.4,624.4 592,615.3 595.7,602.6 599.3,588 603,585.2 608.4,581.6 612.1,576.1 615.7,570.7 619.4,571.6 624,580.7 628.5,588.9 633.1,594.4 637.6,596.2 641.3,597.1 644.9,603.5 648.6,609.9 652.2,615.3 655.9,613.5 659.5,599.8 663.1,600.7 666.8,619 669.5,633.6 673.2,642.7 676.8,633.6 680.5,615.3 683.2,600.7 686.8,602.6 691.4,598 696,604.4 700.5,609 705.1,603.5 711.1,598.7 712.8,591 717.9,585.9 722.1,587.6 726.4,587.6 731.5,581.7 737.4,583.4 742.5,582.5 747.6,583.4 751.9,589.3 757.8,591 762.9,589.3 771.4,590.2 774.8,599.5 779.1,608 781.6,614.8 785.9,625 790.1,631 796.1,638.6 799.5,655.6 803.7,665.9 807.1,664.1 811.4,650.5 817.3,643.7 823.3,636.9 827.6,634.9 831.8,640.3 836.9,650.5 838.6,640.3 841.2,604.6 844.6,594.4 848,585.9 850.5,587.6 853.1,593.6 858.2,594.4 865,594.4 868.4,596.1 872.6,602.1 877.7,604.6 882,611.4 887.1,619.9 890,622.7 892.9,627.8 896.6,624.2 900.2,621.3 903.1,615.4 905.3,611 908.2,608.1 911.9,614 916.3,616.1 919.2,619.8 922.1,625.6 924.3,634.4 926.5,647.5 928.6,662.1 931.6,665.7 934.5,660.6 938.1,651.9 940.3,639.5 944,632.9 946.1,625.6 948.3,618.3 949.8,613.2 954.2,608.1 958.5,605.9 962.2,599.4 965.8,589.2 969.5,584.8 972.4,581.9 974.6,582.6 977.5,590.6 981.1,599.4 984.1,606.7 987.7,607.4 990.6,598.6 993.5,594.3 997.9,590.6 1001.6,592.1 1005.2,596.5 1008.9,606.7 1012.5,608.9 1016.1,612.5 1019.8,615.4" fill="none" stroke="#FF0000" stroke-width="2.2" stroke-linejoin="round"/>
<line x1="518.2" y1="501.9" x2="685.9" y2="615" stroke="#0066CC" stroke-width="2.6"/>
<line x1="972.4" y1="575.8" x2="1018.3" y2="592.8" stroke="#0066CC" stroke-width="2.6"/>
<text x="1076.7" y="618.5" font-family="Liberation Sans, sans-serif" font-size="16" letter-spacing="0.9" fill="#0000FF">MACD</text>
<text filter="url(#crisp)" x="3" y="692.3" font-family="Liberation Mono, monospace" font-size="11.67" xml:space="preserve"><tspan fill="#0000FF">Vol_.IBEX</tspan><tspan x="71" fill="#0000FF">Vol: 57.604</tspan><tspan x="153.6" fill="#FF0000">P: 37.304</tspan></text>
<text x="1077.2" y="728.5" font-family="Liberation Sans, sans-serif" font-size="16" letter-spacing="1.4" fill="#0000FF">Volumen</text>
<text filter="url(#crisp)" x="106.9" y="800.5" font-family="Liberation Sans, sans-serif" font-weight="bold" font-size="13.5" letter-spacing="0.4" fill="#0000FF">08-Jul-16</text>
<text filter="url(#crisp)" x="290.2" y="800.5" font-family="Liberation Sans, sans-serif" font-weight="bold" font-size="13.5" letter-spacing="0.4" fill="#0000FF">11-Jul-16</text>
<text filter="url(#crisp)" x="473.5" y="800.5" font-family="Liberation Sans, sans-serif" font-weight="bold" font-size="13.5" letter-spacing="0.4" fill="#0000FF">12-Jul-16</text>
<text filter="url(#crisp)" x="656.7" y="800.5" font-family="Liberation Sans, sans-serif" font-weight="bold" font-size="13.5" letter-spacing="0.4" fill="#0000FF">13-Jul-16</text>
<text filter="url(#crisp)" x="840.1" y="800.5" font-family="Liberation Sans, sans-serif" font-weight="bold" font-size="13.5" letter-spacing="0.4" fill="#0000FF">14-Jul-16</text>
<text filter="url(#crisp)" x="1023.4000000000001" y="800.5" font-family="Liberation Sans, sans-serif" font-weight="bold" font-size="13.5" letter-spacing="0.4" fill="#0000FF">15-Jul-16</text>
<text filter="url(#crisp)" x="1206.7" y="800.5" font-family="Liberation Sans, sans-serif" font-weight="bold" font-size="13.5" letter-spacing="0.4" fill="#0000FF">18-Jul-16</text>
<rect x="106" y="794" width="1" height="9" fill="#0000FF"/>
<rect x="289" y="794" width="1" height="9" fill="#0000FF"/>
<rect x="472" y="794" width="1" height="9" fill="#0000FF"/>
<rect x="656" y="794" width="1" height="9" fill="#0000FF"/>
<rect x="839" y="794" width="1" height="9" fill="#0000FF"/>
<rect x="1022" y="794" width="1" height="9" fill="#0000FF"/>
<rect x="1206" y="794" width="1" height="9" fill="#0000FF"/>
<path d="M6 787V803M8 782V803M9 778V803M11 786V803M13 792V803M15 785V803M17 787V803M18 786V803M20 783V803M22 782V803M24 793V803M26 793V803M27 738V803M29 785V803M31 785V803M33 786V803M35 790V803M36 779V803M38 785V803M40 783V803M42 784V803M44 754V803M45 779V803M47 781V803M49 779V803M51 776V803M53 776V803M54 776V803M56 768V803M58 790V803M60 790V803M62 784V803M63 775V803M65 771V803M67 759V803M69 778V803M71 773V803M72 778V803M74 763V803M76 775V803M78 787V803M80 751V803M81 780V803M83 766V803M85 772V803M87 785V803M88 768V803M90 767V803M92 768V803M94 753V803M96 756V803M97 759V803M99 763V803M101 742V803M103 756V803M105 696V803M106 746V803M108 763V803M110 773V803M112 779V803M114 780V803M115 776V803M117 783V803M119 754V803M121 780V803M123 786V803M124 765V803M126 783V803M128 775V803M130 766V803M132 763V803M133 779V803M135 771V803M137 772V803M139 774V803M141 771V803M142 782V803M144 769V803M146 748V803M148 719V803M150 769V803M151 767V803M153 738V803M155 772V803M157 769V803M158 772V803M160 757V803M162 754V803M164 767V803M166 762V803M167 761V803M169 760V803M171 777V803M173 787V803M175 789V803M176 780V803M178 782V803M180 764V803M182 781V803M184 776V803M185 759V803M187 746V803M189 760V803M191 769V803M193 782V803M194 784V803M196 776V803M198 789V803M200 766V803M202 777V803M203 774V803M205 773V803M207 786V803M209 781V803M211 784V803M212 789V803M214 784V803M216 776V803M218 784V803M220 785V803M221 788V803M223 782V803M225 696V803M227 733V803M229 724V803M230 731V803M232 762V803M234 756V803M236 741V803M237 773V803M239 757V803M241 756V803M243 780V803M245 774V803M246 742V803M248 750V803M250 759V803M252 775V803M254 779V803M255 780V803M257 784V803M259 770V803M261 767V803M263 780V803M264 749V803M266 775V803M268 772V803M270 759V803M272 773V803M273 757V803M275 753V803M277 765V803M279 776V803M281 776V803M282 760V803M284 742V803M286 735V803M288 738V803M290 696V803M291 745V803M293 763V803M295 765V803M297 757V803M299 755V803M300 760V803M302 751V803M304 743V803M306 774V803M307 759V803M309 745V803M311 760V803M313 760V803M315 774V803M316 782V803M318 763V803M320 774V803M322 782V803M324 776V803M325 782V803M327 781V803M329 775V803M331 760V803M333 729V803M334 779V803M336 780V803M338 776V803M340 779V803M342 761V803M343 792V803M345 780V803M347 784V803M349 780V803M351 778V803M352 785V803M354 781V803M356 794V803M358 787V803M360 785V803M361 790V803M363 782V803M365 778V803M367 785V803M369 778V803M370 786V803M372 781V803M374 786V803M376 762V803M378 779V803M379 761V803M381 764V803M383 758V803M385 776V803M386 779V803M388 784V803M390 779V803M392 785V803M394 790V803M395 789V803M397 774V803M399 791V803M401 788V803M403 783V803M404 789V803M406 791V803M408 789V803M410 780V803M412 789V803M413 794V803M415 790V803M417 786V803M419 789V803M421 781V803M422 791V803M424 786V803M426 775V803M428 786V803M430 770V803M431 779V803M433 777V803M435 759V803M437 770V803M439 784V803M440 778V803M442 778V803M444 783V803M446 787V803M448 787V803M449 787V803M451 782V803M453 787V803M455 782V803M456 772V803M458 778V803M460 771V803M462 764V803M464 769V803M465 751V803M467 745V803M469 756V803M471 696V803M473 696V803M474 731V803M476 756V803M478 742V803M480 734V803M482 719V803M483 755V803M485 751V803M487 768V803M489 753V803M491 733V803M492 778V803M494 762V803M496 763V803M498 753V803M500 755V803M501 696V803M503 746V803M505 746V803M507 763V803M509 719V803M510 736V803M512 748V803M514 731V803M516 756V803M518 762V803M519 764V803M521 760V803M523 775V803M525 766V803M527 775V803M528 778V803M530 775V803M532 772V803M534 787V803M535 783V803M537 787V803M539 779V803M541 779V803M543 765V803M544 786V803M546 769V803M548 783V803M550 766V803M552 786V803M553 785V803M555 771V803M557 766V803M559 777V803M561 781V803M562 778V803M564 776V803M566 778V803M568 776V803M570 784V803M571 783V803M573 780V803M575 783V803M577 783V803M579 788V803M580 786V803M582 783V803M584 789V803M586 764V803M588 782V803M589 781V803M591 766V803M593 760V803M595 718V803M597 778V803M598 749V803M600 774V803M602 778V803M604 771V803M605 763V803M607 760V803M609 764V803M611 750V803M613 738V803M614 761V803M616 751V803M618 756V803M620 771V803M622 767V803M623 764V803M625 744V803M627 745V803M629 758V803M631 762V803M632 767V803M634 759V803M636 760V803M638 762V803M640 757V803M641 775V803M643 761V803M645 751V803M647 741V803M649 735V803M650 724V803M652 731V803M654 696V803M656 696V803M658 719V803M659 742V803M661 746V803M663 736V803M665 747V803M667 740V803M668 729V803M670 745V803M672 761V803M674 696V803M676 696V803M677 696V803M679 704V803M681 696V803M683 696V803M684 696V803M686 725V803M688 735V803M690 747V803M692 755V803M693 754V803M695 748V803M697 764V803M699 777V803M701 756V803M702 772V803M704 765V803M706 773V803M708 780V803M710 775V803M711 776V803M713 780V803M715 768V803M717 786V803M719 775V803M720 782V803M722 758V803M724 768V803M726 774V803M728 776V803M729 782V803M731 746V803M733 780V803M735 777V803M737 767V803M738 780V803M740 761V803M742 769V803M744 764V803M746 772V803M747 777V803M749 772V803M751 780V803M753 780V803M755 779V803M756 784V803M758 777V803M760 770V803M762 781V803M763 768V803M765 760V803M767 781V803M769 783V803M771 784V803M772 773V803M774 763V803M776 773V803M778 764V803M780 771V803M781 770V803M783 777V803M785 768V803M787 776V803M789 776V803M790 787V803M792 780V803M794 775V803M796 755V803M798 747V803M799 752V803M801 760V803M803 759V803M805 764V803M807 763V803M808 772V803M810 762V803M812 770V803M814 775V803M816 767V803M817 739V803M819 767V803M821 769V803M823 767V803M825 773V803M826 778V803M828 774V803M830 761V803M832 758V803M833 746V803M835 749V803M837 696V803M839 696V803M841 746V803M842 755V803M844 756V803M846 759V803M848 762V803M850 766V803M851 753V803M853 770V803M855 756V803M857 749V803M859 775V803M860 769V803M862 759V803M864 775V803M866 783V803M868 764V803M869 768V803M871 773V803M873 779V803M875 777V803M877 780V803M878 770V803M880 776V803M882 756V803M884 769V803M886 776V803M887 781V803M889 778V803M891 773V803M893 782V803M895 771V803M896 786V803M898 792V803M900 789V803M902 783V803M904 781V803M905 788V803M907 782V803M909 783V803M911 773V803M912 777V803M914 785V803M916 786V803M918 786V803M920 777V803M921 776V803M923 764V803M925 696V803M927 753V803M929 765V803M930 770V803M932 781V803M934 771V803M936 785V803M938 767V803M939 772V803M941 788V803M943 786V803M945 773V803M947 780V803M948 782V803M950 782V803M952 784V803M954 783V803M956 786V803M957 783V803M959 784V803M961 781V803M963 769V803M965 774V803M966 782V803M968 784V803M970 765V803M972 766V803M974 779V803M975 784V803M977 778V803M979 779V803M981 784V803M982 780V803M984 768V803M986 779V803M988 771V803M990 755V803M991 758V803M993 772V803M995 757V803M997 768V803M999 775V803M1000 773V803M1002 757V803M1004 767V803M1006 769V803M1008 763V803M1009 773V803M1011 770V803M1013 765V803M1015 758V803M1017 746V803M1018 760V803M1020 696V803M1022 794V803" stroke="#0000FF" stroke-width="1" transform="translate(0.5 0)" fill="none"/>
<rect x="0" y="803" width="1432" height="1" fill="#0000FF"/>
<rect x="74" y="803" width="1" height="10" fill="#0000FF"/>
<text filter="url(#crisp)" x="76.2" y="821" font-family="Liberation Sans, sans-serif" font-weight="bold" font-size="12.4" letter-spacing="1.25" fill="#0000FF">16:00</text>
<rect x="171" y="803" width="1" height="10" fill="#0000FF"/>
<text filter="url(#crisp)" x="173.2" y="821" font-family="Liberation Sans, sans-serif" font-weight="bold" font-size="12.4" letter-spacing="1.25" fill="#0000FF">12:00</text>
<rect x="257" y="803" width="1" height="10" fill="#0000FF"/>
<text filter="url(#crisp)" x="259.2" y="821" font-family="Liberation Sans, sans-serif" font-weight="bold" font-size="12.4" letter-spacing="1.25" fill="#0000FF">16:00</text>
<rect x="354" y="803" width="1" height="10" fill="#0000FF"/>
<text filter="url(#crisp)" x="356.2" y="821" font-family="Liberation Sans, sans-serif" font-weight="bold" font-size="12.4" letter-spacing="1.25" fill="#0000FF">12:00</text>
<rect x="440" y="803" width="1" height="10" fill="#0000FF"/>
<text filter="url(#crisp)" x="442.2" y="821" font-family="Liberation Sans, sans-serif" font-weight="bold" font-size="12.4" letter-spacing="1.25" fill="#0000FF">16:00</text>
<rect x="537" y="803" width="1" height="10" fill="#0000FF"/>
<text filter="url(#crisp)" x="539.2" y="821" font-family="Liberation Sans, sans-serif" font-weight="bold" font-size="12.4" letter-spacing="1.25" fill="#0000FF">12:00</text>
<rect x="623" y="803" width="1" height="10" fill="#0000FF"/>
<text filter="url(#crisp)" x="625.2" y="821" font-family="Liberation Sans, sans-serif" font-weight="bold" font-size="12.4" letter-spacing="1.25" fill="#0000FF">16:00</text>
<rect x="720" y="803" width="1" height="10" fill="#0000FF"/>
<text filter="url(#crisp)" x="722.2" y="821" font-family="Liberation Sans, sans-serif" font-weight="bold" font-size="12.4" letter-spacing="1.25" fill="#0000FF">12:00</text>
<rect x="807" y="803" width="1" height="10" fill="#0000FF"/>
<text filter="url(#crisp)" x="809.2" y="821" font-family="Liberation Sans, sans-serif" font-weight="bold" font-size="12.4" letter-spacing="1.25" fill="#0000FF">16:00</text>
<rect x="904" y="803" width="1" height="10" fill="#0000FF"/>
<text filter="url(#crisp)" x="906.2" y="821" font-family="Liberation Sans, sans-serif" font-weight="bold" font-size="12.4" letter-spacing="1.25" fill="#0000FF">12:00</text>
<rect x="990" y="803" width="1" height="10" fill="#0000FF"/>
<text filter="url(#crisp)" x="992.2" y="821" font-family="Liberation Sans, sans-serif" font-weight="bold" font-size="12.4" letter-spacing="1.25" fill="#0000FF">16:00</text>
<rect x="1087" y="803" width="1" height="10" fill="#0000FF"/>
<text filter="url(#crisp)" x="1089.2" y="821" font-family="Liberation Sans, sans-serif" font-weight="bold" font-size="12.4" letter-spacing="1.25" fill="#0000FF">12:00</text>
<rect x="1173" y="803" width="1" height="10" fill="#0000FF"/>
<text filter="url(#crisp)" x="1175.2" y="821" font-family="Liberation Sans, sans-serif" font-weight="bold" font-size="12.4" letter-spacing="1.25" fill="#0000FF">16:00</text>
<rect x="1270" y="803" width="1" height="10" fill="#0000FF"/>
<text filter="url(#crisp)" x="1272.2" y="821" font-family="Liberation Sans, sans-serif" font-weight="bold" font-size="12.4" letter-spacing="1.25" fill="#0000FF">12:00</text>
</svg>
</body></html>
